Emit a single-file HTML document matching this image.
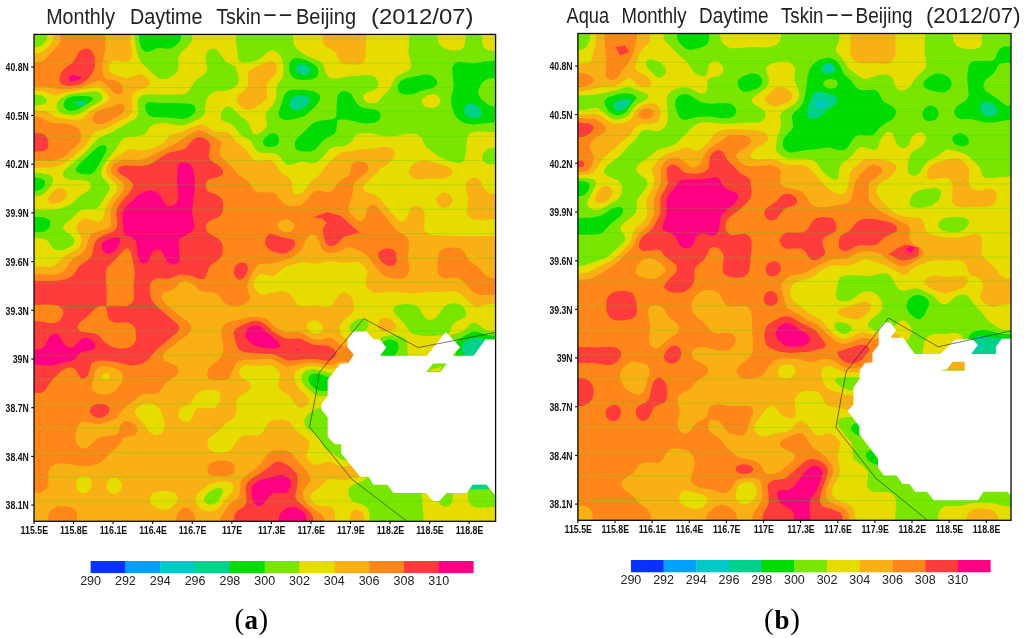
<!DOCTYPE html>
<html><head><meta charset="utf-8"><title>Monthly Daytime Tskin Beijing</title>
<style>
html,body{margin:0;padding:0;background:#fff;}
body{width:1024px;height:638px;overflow:hidden;}
svg{display:block;}
text{font-family:"Liberation Sans",sans-serif;fill:#1a1a1a;}
.title text{fill:#222;}
.tick text{font-size:10.2px;font-weight:bold;fill:#111;}
.cb text{font-size:12.5px;fill:#222;}
.cap{font-family:"Liberation Serif",serif;font-size:29px;fill:#000;}
</style></head><body>
<svg width="1024" height="638" viewBox="0 0 1024 638">
<rect width="1024" height="638" fill="#fff"/>
<g>
<rect x="34.0" y="34.4" width="461.6" height="486.9" fill="#00d28c"/>
<path fill="#00dc00" fill-rule="evenodd" d="M34.0,34.4 495.6,34.4 495.6,339.8 488.4,339.6 477.6,337.9 474.0,338.0 471.1,338.7 464.2,342.3 461.9,345.9 461.8,349.5 464.2,356.6 465.0,360.2 465.1,363.8 463.8,378.1 465.0,396.0 462.0,406.7 462.0,410.3 464.2,413.9 470.4,416.9 474.0,417.9 481.2,418.4 495.6,417.8 495.6,521.3 34.0,521.3ZM296.0,66.6 295.6,70.2 297.3,72.5 300.9,74.4 304.5,74.7 308.1,74.1 308.9,73.8 311.6,70.2 308.9,66.6 304.5,64.6 300.9,64.0 297.3,65.2ZM290.9,98.8 289.4,102.4 289.5,106.0 290.0,107.1 292.7,109.6 297.3,110.2 300.9,109.5 306.6,106.0 309.7,102.4 310.2,98.8 308.1,97.2 304.5,95.7 300.9,95.3 297.3,95.5 293.7,96.8ZM71.6,102.4 73.7,104.1 77.9,102.4 77.3,101.9 73.7,101.4ZM465.3,106.0 463.9,109.6 464.6,113.2 466.8,115.6 470.4,117.7 474.0,118.2 477.6,117.7 479.5,116.7 482.0,113.2 480.8,109.6 477.6,106.2 474.0,104.2 470.4,103.6 466.8,104.6ZM379.5,353.0 380.2,355.0 380.9,353.0Z"/>
<path fill="#78e600" fill-rule="evenodd" d="M34.0,34.4 139.0,34.4 139.4,41.6 140.4,45.1 142.2,49.5 145.8,52.0 149.4,51.7 156.6,48.3 160.2,47.9 167.4,48.7 171.0,48.3 174.6,46.6 179.8,41.6 181.1,38.0 181.1,34.4 495.6,34.4 495.6,60.7 488.4,61.0 474.0,63.2 459.5,61.8 455.2,63.0 452.6,66.6 452.2,70.2 453.7,84.5 453.4,88.1 451.0,98.8 451.7,106.0 453.9,113.2 455.9,116.7 459.4,120.3 463.1,122.4 466.8,123.5 474.0,124.4 495.6,122.3 495.6,335.6 488.4,335.2 477.6,331.9 474.0,331.5 470.4,332.7 459.5,338.7 456.1,342.3 455.2,345.9 455.2,349.5 456.5,360.2 456.0,378.1 456.4,396.0 455.4,406.7 456.2,413.9 459.5,417.9 474.0,424.2 477.6,425.0 481.2,425.1 495.6,424.0 495.6,521.3 34.0,521.3 34.0,232.3 41.2,232.0 45.0,231.3 49.3,227.7 50.4,224.1 49.9,220.6 48.4,219.3 44.8,217.8 41.2,217.1 34.0,216.9 34.0,190.7 37.6,190.7 41.2,189.5 42.7,188.3 45.2,184.8 44.9,181.2 41.2,178.5 37.6,177.7 34.0,177.6ZM292.0,59.5 289.7,63.0 289.2,70.2 290.2,73.8 293.7,78.0 297.3,79.4 304.5,80.0 311.7,79.4 316.1,77.4 318.4,73.8 318.5,70.2 316.7,66.6 315.3,65.3 308.1,61.1 300.9,58.6 297.3,58.0 293.7,58.4ZM423.5,74.5 405.4,78.5 400.5,80.9 398.1,84.5 397.7,88.1 398.9,91.7 401.8,93.7 405.4,94.4 412.7,94.2 419.9,91.2 432.8,88.1 437.1,84.5 437.0,80.9 434.5,77.4 430.7,75.3 427.1,74.5ZM286.9,91.7 284.2,95.3 278.4,113.2 279.2,116.8 282.8,119.6 286.4,120.0 290.0,119.7 297.3,118.3 304.5,115.9 311.7,110.1 315.7,106.0 318.5,102.4 320.1,98.8 319.5,95.3 318.9,94.5 315.3,92.0 311.7,90.9 304.5,90.0 293.7,89.6 290.0,90.1ZM344.1,91.1 340.5,91.9 337.8,95.3 337.0,98.8 336.3,116.7 333.3,119.0 318.9,121.0 315.3,122.0 311.7,124.0 305.0,131.1 297.1,138.2 295.2,141.8 294.7,145.4 295.9,149.0 297.3,150.0 300.9,151.3 308.1,151.8 311.7,151.3 315.3,149.5 322.5,141.1 326.1,138.3 333.9,134.6 336.2,131.1 337.4,120.3 340.5,119.4 347.7,119.7 362.2,123.2 365.8,123.6 373.0,123.1 376.6,121.9 378.9,120.3 380.6,116.7 380.3,113.2 376.6,110.0 362.2,107.5 358.6,105.3 356.1,102.4 351.4,94.4 347.7,91.8ZM66.4,98.8 63.9,102.4 63.6,106.0 66.1,109.6 70.1,110.8 73.7,110.8 77.9,109.6 89.5,102.4 93.4,98.8 91.7,97.2 88.1,96.3 80.9,95.9 73.7,96.3 70.1,97.1ZM147.2,102.4 145.8,103.7 145.2,106.0 145.8,109.9 147.2,113.2 149.4,115.7 153.0,117.1 171.0,117.8 181.9,119.0 185.5,118.5 189.9,116.7 194.4,113.2 195.8,109.6 194.4,106.0 192.7,104.7 189.1,103.7 174.6,103.0 160.2,103.1 149.4,102.0ZM269.1,134.6 264.5,138.2 262.7,141.8 264.2,145.4 268.4,146.9 272.0,147.0 277.0,145.4 279.1,141.8 278.8,138.2 276.8,134.6 275.6,133.5 272.0,133.2ZM102.5,144.9 98.9,146.3 95.3,149.2 80.2,163.3 77.0,166.9 75.7,170.4 77.3,172.1 80.9,173.8 88.1,174.4 91.7,173.8 95.3,170.7 105.6,152.5 106.6,149.0 106.1,146.4 105.1,145.4ZM382.4,342.3 373.0,350.2 371.1,353.0 371.0,356.6 373.0,359.4 380.8,363.8 383.9,367.4 385.0,370.9 385.6,381.7 384.9,388.8 382.9,399.6 383.4,403.2 387.4,406.7 391.0,407.1 394.6,405.7 396.4,403.2 398.0,396.0 398.7,374.5 397.5,367.4 394.6,360.2 394.5,356.6 398.2,349.9 398.8,345.9 397.3,342.3 394.6,340.5 391.0,339.5 387.4,339.7ZM310.7,374.5 308.4,378.1 309.0,381.7 311.1,385.3 315.3,388.9 318.9,390.5 322.5,391.1 326.1,390.9 330.7,388.8 333.2,385.3 333.2,381.7 329.7,377.8 318.9,373.8 315.3,373.4ZM484.8,80.2 488.4,78.5 495.6,78.0 495.6,106.3 492.0,106.2 488.4,104.9 481.0,98.8 478.7,95.3 478.3,91.7 479.1,88.1 481.2,83.9Z"/>
<path fill="#e6dc00" fill-rule="evenodd" d="M46.8,34.4 134.8,34.4 135.1,41.6 136.3,48.7 138.6,57.5 141.5,63.0 156.6,77.0 160.2,78.9 163.8,79.3 167.4,78.5 174.6,74.8 178.2,70.2 178.6,66.6 178.0,59.5 178.9,55.9 181.6,52.3 189.0,45.1 191.3,41.6 192.0,38.0 192.1,34.4 235.8,34.4 236.0,41.6 238.4,59.5 239.6,61.3 243.2,62.7 250.4,62.1 257.6,59.9 263.4,55.9 268.4,51.4 272.0,50.3 275.6,51.3 279.2,54.1 282.2,59.5 283.5,66.6 283.3,73.8 282.5,77.4 277.7,84.5 276.5,88.1 275.9,98.8 274.4,102.4 272.0,105.9 265.6,113.2 265.5,116.7 267.2,123.9 266.2,127.5 261.2,132.2 257.6,134.2 254.0,134.4 251.6,131.1 249.2,123.9 246.8,120.5 239.6,115.5 232.3,108.0 228.7,106.2 225.1,107.3 223.1,109.6 221.3,113.2 220.5,116.7 221.7,120.3 228.7,122.7 232.3,124.6 239.6,133.8 243.2,136.6 250.4,140.3 255.3,149.0 257.6,151.2 261.2,152.7 272.0,153.1 275.6,153.8 279.5,156.1 282.8,160.8 286.4,164.6 290.0,165.3 300.9,161.5 304.5,161.7 311.7,163.5 315.3,163.0 318.9,160.7 322.5,157.5 329.7,148.7 333.3,146.9 344.1,145.9 347.7,144.6 351.6,141.8 355.0,136.3 356.9,134.6 358.6,133.8 365.8,132.9 373.0,133.6 380.2,135.5 387.4,136.3 394.6,135.9 409.1,133.5 416.3,134.1 419.9,136.1 421.7,138.2 424.9,145.4 427.1,148.1 438.2,156.1 445.2,159.7 455.9,162.7 459.5,163.2 463.1,161.7 464.4,159.7 465.9,152.5 467.1,138.2 468.5,134.6 470.4,133.2 474.0,131.9 477.6,131.5 495.6,132.2 495.6,147.7 492.0,147.7 487.6,149.0 483.6,152.5 482.2,156.1 482.5,159.7 484.8,162.6 488.4,164.3 495.6,164.8 495.6,331.5 488.4,330.8 482.5,328.0 477.6,324.0 474.0,322.6 470.4,323.6 466.8,328.0 462.1,331.6 459.5,332.7 450.4,335.1 449.7,338.7 449.6,345.9 449.6,413.9 448.7,418.1 439.6,424.6 437.6,428.2 437.0,435.4 437.8,449.7 437.8,481.9 437.1,496.2 437.6,499.8 439.4,503.4 441.5,505.6 445.1,507.0 448.7,506.1 451.2,503.4 452.6,499.8 453.1,492.7 452.5,481.9 452.7,446.1 452.3,431.0 452.6,428.2 455.0,424.6 459.5,424.2 463.1,425.3 468.1,428.2 470.3,431.8 470.4,435.4 467.5,446.1 468.3,460.4 468.3,481.9 467.7,492.7 468.1,499.8 470.4,504.4 474.0,507.0 477.6,507.7 481.2,507.8 495.6,506.7 495.6,521.3 423.6,521.3 422.0,496.2 421.9,446.1 422.6,431.8 422.1,428.2 420.4,424.6 411.3,417.5 408.9,413.9 407.9,410.3 406.1,381.7 406.4,370.9 408.0,356.6 407.1,342.3 405.4,338.6 401.8,336.4 398.2,335.6 391.0,335.2 383.8,336.4 380.2,338.3 369.4,348.8 367.5,353.0 367.5,356.6 369.4,360.1 379.2,367.4 381.4,370.9 382.2,374.5 382.5,381.7 381.3,388.8 376.6,400.0 373.0,404.7 369.4,406.5 362.2,407.5 347.7,406.4 344.1,406.6 333.3,408.7 318.9,408.0 315.3,408.9 308.1,413.9 305.2,417.5 304.1,421.1 304.7,424.6 306.9,428.2 316.4,435.4 319.5,439.0 322.8,446.1 326.3,449.7 333.3,453.7 340.5,459.0 343.9,460.4 347.7,460.8 358.6,460.2 362.2,460.8 365.8,462.6 367.1,464.0 368.6,467.6 369.0,471.2 368.5,474.8 366.6,478.3 362.2,481.2 351.6,485.5 348.7,489.1 348.2,492.7 349.0,496.2 351.4,500.0 355.0,502.2 362.2,504.5 366.4,507.0 368.6,510.6 369.4,514.1 369.7,521.3 34.0,521.3 34.0,237.9 41.2,238.2 44.8,239.1 48.4,241.5 52.0,247.3 55.6,250.0 59.2,250.3 62.9,249.7 66.5,248.8 72.5,245.6 74.6,242.0 73.9,238.5 70.1,234.3 65.4,231.3 62.9,227.7 64.7,224.1 73.5,217.0 77.3,212.8 80.9,209.9 84.5,208.9 95.3,208.9 99.2,206.2 108.3,191.9 110.0,188.3 109.1,184.8 102.5,177.6 101.3,174.0 101.5,170.4 102.6,166.9 106.1,160.9 116.0,149.0 120.6,141.1 124.2,138.2 127.8,136.9 138.6,136.0 144.0,134.6 145.8,133.3 149.4,127.4 154.7,123.9 163.8,123.1 178.2,125.3 181.9,125.4 185.5,124.7 195.7,120.3 202.3,116.7 204.7,113.2 205.8,102.4 206.8,98.8 210.7,94.1 214.3,92.0 217.9,91.1 225.1,90.8 228.7,90.1 232.3,88.6 237.5,84.5 238.8,80.9 237.8,73.8 235.9,67.8 235.1,66.6 228.7,63.5 225.1,61.0 217.9,50.6 214.3,48.6 210.7,49.0 207.1,51.7 205.5,55.9 205.7,59.5 207.1,66.6 207.0,70.2 204.9,73.8 195.0,80.9 188.2,91.7 185.5,93.5 181.9,94.4 160.2,94.7 149.4,94.0 141.8,95.3 138.0,98.8 137.4,102.4 138.5,113.2 137.1,116.7 135.0,118.9 119.5,127.5 113.3,131.5 98.9,137.9 95.3,140.9 85.0,152.5 64.2,170.4 62.3,174.0 64.7,177.6 66.5,178.4 70.1,179.7 80.9,179.9 88.1,181.2 91.2,184.8 90.3,188.3 88.1,190.7 80.3,195.5 72.7,202.7 70.1,204.4 62.8,207.8 59.2,208.9 52.0,210.1 34.0,209.7 34.0,196.4 37.6,196.3 41.2,195.3 44.8,193.0 49.3,188.3 51.5,184.8 53.0,181.2 53.0,177.6 48.4,174.6 41.2,173.0 34.0,172.7 34.0,105.5 41.2,105.1 44.8,103.8 46.8,102.4 46.5,98.8 41.7,95.3 34.0,94.6 34.0,46.9 37.6,46.9 42.3,45.1 45.7,41.6 46.8,38.0ZM95.3,91.2 73.7,93.5 66.0,95.3 60.4,98.8 57.4,102.4 56.4,106.0 57.4,109.6 61.1,113.2 66.5,114.8 73.7,115.2 77.3,114.5 80.9,112.9 91.7,106.1 98.8,102.4 102.6,98.8 102.1,95.3 98.9,92.3ZM394.7,306.5 393.0,310.1 395.0,313.7 405.1,324.4 409.6,331.6 412.7,333.9 423.5,336.0 430.7,336.3 448.7,334.3 450.2,331.6 451.0,328.0 453.0,324.4 455.9,321.6 465.0,317.2 466.3,313.7 465.2,310.1 462.7,306.5 459.5,304.2 455.9,303.2 452.3,303.2 448.7,304.1 444.3,306.5 436.2,317.2 434.3,318.8 430.7,320.0 427.1,319.2 424.7,317.2 422.2,313.7 419.9,308.9 416.3,305.5 412.7,304.5 405.4,304.1 398.2,305.1ZM354.7,320.8 350.6,324.4 349.1,328.0 350.6,331.6 351.4,332.0 355.0,333.1 358.6,333.0 363.5,331.6 367.9,328.0 368.6,324.4 366.9,320.8 365.8,319.8 362.2,318.7 358.6,319.1ZM305.5,370.9 302.0,374.5 301.4,378.1 302.3,381.7 304.3,385.3 307.4,388.8 315.3,395.0 318.9,396.2 322.5,396.6 329.7,395.4 333.3,393.9 335.2,392.4 337.9,388.8 339.4,385.3 340.8,378.1 338.2,374.5 329.7,373.0 315.3,369.2 311.7,369.2ZM213.8,489.1 208.1,492.7 205.1,496.2 204.1,499.8 206.2,503.4 207.1,504.0 210.7,504.8 214.3,504.1 217.9,501.1 221.0,496.2 222.5,492.7 222.6,489.1 221.5,488.4 217.9,488.1ZM292.9,34.4 409.5,34.4 408.3,52.3 411.2,63.0 411.2,66.6 409.1,70.2 398.2,75.4 395.7,77.4 393.4,80.9 390.4,88.1 387.4,91.6 383.8,94.4 380.2,99.6 377.0,102.4 373.0,103.3 369.4,103.0 365.8,101.5 363.3,98.8 363.4,95.3 365.8,93.0 373.0,90.5 377.1,88.1 378.3,84.5 377.8,80.9 375.6,77.4 373.0,75.8 365.8,75.1 347.7,76.6 336.9,78.6 333.3,78.6 329.7,77.8 326.1,73.9 324.2,66.6 322.2,63.0 318.9,60.8 307.4,55.9 301.2,52.3 296.7,48.7 294.4,45.1 293.3,41.6ZM437.3,34.4 465.6,34.4 465.4,41.6 464.7,45.1 463.1,47.8 459.5,50.0 452.3,50.4 445.1,48.7 440.0,45.1 438.0,41.6 437.3,38.0ZM482.0,34.4 495.6,34.4 495.6,50.8 488.4,50.3 484.8,48.4 482.9,45.1 482.2,41.6ZM430.7,94.6 434.3,94.5 437.4,95.3 440.0,98.8 439.9,102.4 438.1,106.0 434.3,107.8 430.7,108.0 427.1,107.5 424.0,106.0 421.8,102.4 422.7,98.8 423.5,98.2 427.1,95.6Z"/>
<path fill="#f8b014" fill-rule="evenodd" d="M53.1,34.4 130.4,34.4 130.7,41.6 131.9,52.3 131.9,55.9 130.7,59.5 127.8,61.9 124.2,62.0 116.9,60.7 113.3,60.9 109.7,63.8 108.7,66.6 109.0,70.2 113.3,74.3 124.2,77.7 127.8,78.3 138.6,74.3 142.2,74.8 146.5,77.4 149.3,80.9 149.9,84.5 145.8,88.0 138.6,89.9 135.0,91.6 132.3,95.3 131.5,98.8 132.5,109.6 131.6,113.2 128.0,116.7 106.1,128.2 95.3,132.0 91.7,134.8 87.9,141.8 84.5,146.5 69.5,159.7 62.9,163.9 55.6,166.7 48.4,167.7 34.0,167.5 34.0,110.3 44.8,110.9 48.4,112.2 55.5,116.7 59.2,118.0 73.7,119.7 80.9,119.5 84.5,116.9 87.8,113.2 92.5,109.6 107.0,102.4 109.3,98.8 108.3,95.3 105.5,91.7 102.5,89.0 98.9,87.1 95.3,86.8 80.9,90.1 66.5,92.2 55.6,95.2 52.0,94.6 44.8,91.7 41.2,90.9 34.0,90.7 34.0,53.2 37.6,53.2 41.2,52.3 46.8,48.7 50.2,45.1 52.2,41.6 53.1,38.0ZM322.5,34.4 366.0,34.4 365.5,55.9 365.1,59.5 362.8,63.0 358.6,64.4 351.4,64.7 344.1,64.0 340.5,62.5 335.6,52.3 333.3,50.2 326.1,46.9 324.0,45.1 322.7,41.6ZM250.4,69.7 268.4,61.2 272.0,60.8 275.2,63.0 276.8,66.6 276.9,70.2 275.5,73.8 269.0,80.9 266.7,84.5 266.3,88.1 267.4,95.3 266.6,98.8 263.0,102.4 254.0,108.1 250.4,109.7 246.8,109.9 243.2,108.4 240.4,106.0 237.6,102.4 236.5,98.8 238.3,95.3 246.5,88.1 248.4,84.5 247.9,73.8 249.6,70.2ZM192.7,126.9 199.9,124.6 203.5,125.0 214.3,131.3 217.9,131.9 225.1,131.5 228.7,132.7 236.0,141.9 243.2,147.2 246.8,150.8 250.4,156.3 254.0,160.5 257.6,161.4 268.4,159.5 272.0,160.3 275.1,163.3 279.2,170.7 282.8,174.0 290.0,178.7 291.6,181.2 293.1,191.9 293.7,193.0 297.3,194.5 300.9,193.4 304.5,190.4 311.7,180.9 318.9,175.3 326.1,165.5 335.7,156.1 340.5,153.1 344.1,152.0 358.6,149.8 373.0,148.6 383.8,146.7 387.4,146.8 391.0,147.8 392.9,149.0 394.9,152.5 394.7,156.1 392.8,159.7 388.6,163.3 380.2,169.0 375.7,174.0 364.2,184.8 363.3,188.3 365.7,191.9 373.0,194.0 376.6,195.7 380.2,198.7 394.6,216.8 398.2,220.2 401.8,221.8 405.4,220.4 410.2,209.8 412.7,206.8 416.3,205.8 419.9,207.0 423.1,209.8 424.7,213.4 424.8,217.0 423.8,227.7 424.9,231.3 427.1,233.5 430.7,234.9 455.9,236.0 495.6,236.0 495.6,303.8 488.4,304.2 477.6,307.0 474.0,305.9 459.5,292.9 455.9,291.3 452.3,291.1 441.5,292.2 430.7,291.7 412.7,293.5 391.0,291.7 380.2,293.0 376.6,293.1 373.0,292.4 369.4,290.3 367.6,288.6 365.8,285.0 365.7,281.4 367.2,274.3 366.9,270.7 365.8,268.4 360.9,263.5 358.6,262.3 355.0,261.8 344.1,263.0 329.7,261.1 315.3,263.7 304.5,262.2 300.9,262.2 286.4,266.2 282.8,268.2 275.6,274.7 272.0,276.0 261.2,273.7 257.6,275.5 254.1,281.4 253.5,285.0 254.6,288.6 257.6,292.1 261.2,293.9 264.8,294.3 279.2,291.3 282.8,291.2 286.4,291.8 290.0,294.0 297.3,304.3 300.9,306.0 304.5,306.2 315.3,305.1 326.1,307.0 329.7,306.3 333.3,303.5 336.9,297.4 340.5,293.3 344.1,292.3 347.7,293.4 350.3,295.8 352.5,299.3 354.3,306.5 353.8,310.1 351.4,313.7 343.1,320.8 340.6,324.4 339.5,328.0 339.8,331.6 341.5,335.1 344.1,337.8 347.7,339.3 355.0,339.5 365.8,338.3 369.1,338.7 368.7,342.3 364.8,349.5 364.1,353.0 364.3,356.6 365.9,360.2 369.4,363.6 375.1,367.4 378.3,370.9 379.5,374.5 379.9,378.1 379.1,385.3 376.6,391.6 373.0,395.7 369.4,397.0 365.8,395.7 361.5,385.3 358.6,381.0 351.6,374.5 347.7,369.7 344.1,367.2 340.5,367.1 333.3,368.8 329.7,369.0 315.3,365.9 311.7,365.8 304.5,366.8 300.9,368.2 296.2,370.9 293.9,374.5 293.9,378.1 296.7,385.3 299.0,388.8 306.7,396.0 309.2,399.6 308.1,403.6 304.5,406.7 300.9,407.9 297.0,406.7 290.0,395.9 282.8,391.5 279.6,388.8 278.3,385.3 280.0,374.5 278.6,370.9 275.0,367.4 272.0,365.8 268.4,365.1 257.6,366.1 246.8,364.9 243.2,365.7 240.9,367.4 239.6,369.6 239.0,370.9 239.2,374.5 242.1,378.1 248.1,381.7 250.4,384.6 250.8,385.3 250.3,388.8 246.8,392.1 239.5,396.0 237.0,399.6 236.5,403.2 236.6,410.3 236.0,414.1 233.8,417.5 225.1,424.0 217.9,431.8 212.5,435.4 208.6,439.0 207.4,442.5 207.8,446.1 209.7,449.7 214.3,452.2 217.9,452.9 225.1,452.6 228.7,451.4 231.1,449.7 238.4,439.0 243.2,435.6 246.8,435.0 257.6,435.2 261.2,433.7 263.1,431.8 268.4,423.1 272.0,420.8 275.6,419.9 282.8,419.7 286.4,420.4 290.0,422.3 297.4,431.8 306.7,439.0 309.3,442.5 309.5,446.1 306.7,453.3 306.6,456.9 308.6,460.4 311.7,463.2 315.3,464.8 318.9,464.6 326.1,462.0 329.7,461.9 340.5,466.2 344.1,466.5 355.0,465.4 358.6,466.0 361.1,467.6 362.2,469.8 362.6,471.2 361.1,474.8 358.6,476.7 355.0,478.2 344.1,480.2 333.3,479.1 329.7,479.5 326.1,481.1 318.9,487.9 311.7,493.6 310.4,496.2 310.8,499.8 315.3,504.4 318.9,505.8 329.7,506.6 333.3,509.0 334.9,514.1 335.1,521.3 34.0,521.3 34.0,266.2 48.4,266.9 52.0,266.5 55.6,264.8 63.8,256.4 77.3,249.2 80.2,245.6 81.4,242.0 81.2,238.5 80.0,234.9 76.2,227.7 77.4,224.1 80.9,220.5 84.5,218.6 88.1,218.6 95.3,221.6 98.9,222.1 102.5,219.6 105.1,209.8 108.1,202.7 115.8,191.9 117.4,188.3 116.9,184.8 109.4,177.6 106.8,174.0 106.0,170.4 106.9,166.9 109.0,163.3 113.3,158.9 127.8,150.2 131.4,149.1 142.2,150.5 149.4,149.2 156.6,146.7 159.4,145.4 164.6,141.8 170.4,134.6 181.9,131.7ZM311.6,320.8 308.1,323.0 306.9,324.4 306.9,328.0 308.1,329.3 311.7,332.6 315.3,333.8 318.9,333.1 321.1,331.6 322.9,328.0 322.0,324.4 318.9,321.4 315.3,320.3ZM102.3,374.5 102.5,378.7 106.1,380.4 110.1,378.1 109.5,374.5 106.1,373.2ZM198.2,392.4 194.9,396.0 192.7,400.7 190.9,403.2 181.9,407.5 179.2,410.3 178.2,414.3 179.1,417.5 181.9,420.6 185.5,422.1 189.1,421.7 190.0,421.1 192.7,417.6 195.3,410.3 196.3,409.1 199.9,407.8 210.7,408.5 214.3,407.8 215.9,406.7 218.8,403.2 220.1,399.6 220.6,396.0 219.5,392.4 217.9,391.2 214.3,390.0 207.1,389.7 203.5,390.2ZM138.5,406.7 135.2,410.3 134.6,413.9 144.5,424.6 149.4,431.7 153.0,434.4 156.6,435.2 160.2,434.3 163.2,431.8 164.6,428.2 164.3,421.1 160.7,410.3 157.9,406.7 153.0,404.2 149.4,403.5 145.8,403.4 142.2,404.5ZM78.2,478.3 76.4,481.9 76.2,485.5 77.3,489.9 80.9,493.0 84.5,493.4 88.1,491.9 90.3,489.1 91.5,485.5 91.6,481.9 90.3,478.3 88.1,476.7 84.5,475.9 80.9,476.6ZM113.3,477.6 109.7,478.8 107.1,481.9 106.4,485.5 107.2,489.1 110.0,492.7 113.3,493.8 116.9,493.4 120.6,490.6 121.4,489.1 122.0,485.5 121.1,481.9 116.9,478.2ZM217.1,481.9 210.7,483.8 207.1,485.8 198.6,492.7 196.0,496.2 195.3,499.8 196.5,503.4 199.9,508.1 203.5,510.5 207.1,511.5 210.7,511.3 214.3,510.3 217.9,508.4 221.5,504.9 225.2,499.8 232.3,491.4 233.4,489.1 233.5,485.5 232.3,483.4 230.5,481.9 225.1,481.0ZM153.8,492.7 150.5,496.2 149.8,499.8 150.8,503.4 154.4,507.0 160.2,509.2 163.8,509.9 167.4,509.6 171.0,508.1 175.5,503.4 177.3,499.8 177.2,496.2 174.6,493.1 171.0,491.6 167.4,491.0 160.2,491.0ZM416.3,162.6 423.5,160.5 427.1,160.4 445.1,165.6 448.3,166.9 452.4,170.4 452.3,174.0 448.7,177.0 445.1,178.3 441.5,178.8 430.7,178.4 419.9,179.3 416.3,179.0 412.3,177.6 409.2,174.0 408.7,170.4 410.4,166.9 412.7,164.7ZM474.0,177.5 477.6,178.2 480.6,181.2 483.9,188.3 487.2,191.9 488.4,192.7 492.0,193.7 495.6,193.7 495.6,219.0 481.2,219.9 474.0,219.5 469.2,217.0 466.9,213.4 466.6,209.8 468.1,199.1 465.8,188.3 465.7,184.8 466.9,181.2 470.4,178.4ZM59.2,187.9 62.9,188.4 66.8,191.9 66.9,195.5 64.9,199.1 59.2,202.8 55.6,203.6 52.0,203.5 49.4,202.7 47.6,199.1 49.9,195.5 55.6,189.5ZM441.5,193.0 445.1,192.5 448.7,193.9 450.5,195.5 452.3,199.1 452.0,202.7 448.7,206.8 445.1,207.9 441.5,207.2 439.9,206.2 437.0,202.7 436.5,199.1 437.9,195.8ZM380.2,319.6 383.8,317.9 387.4,318.1 391.0,319.6 396.1,324.4 396.6,328.0 394.6,329.4 391.0,330.7 383.8,331.3 380.2,330.6 378.1,328.0 378.1,324.4 379.3,320.8ZM355.0,509.8 358.6,509.9 362.2,512.2 363.4,514.1 364.2,517.7 364.2,521.3 349.6,521.3 350.3,514.1 351.4,512.2 353.2,510.6Z"/>
<path fill="#ff8719" fill-rule="evenodd" d="M60.8,34.4 105.2,34.4 105.4,48.7 103.1,59.5 102.3,66.6 102.9,73.8 104.3,77.4 106.1,79.1 113.3,80.1 116.2,80.9 121.5,84.5 122.9,88.1 122.3,91.7 120.6,94.3 116.9,94.4 113.3,92.4 102.5,81.0 98.9,80.8 95.3,81.7 80.9,87.4 70.1,89.1 59.2,89.3 48.4,87.2 34.0,86.9 34.0,62.2 41.2,61.5 44.8,59.2 58.7,45.1 60.3,41.6ZM113.3,105.9 120.6,102.9 124.2,105.6 124.6,109.6 122.3,113.2 116.8,116.7 109.7,120.8 102.5,123.9 98.9,124.3 95.3,123.4 92.3,120.3 92.2,116.7 95.3,112.6 101.3,109.6ZM34.1,116.7 37.6,116.8 41.2,117.9 48.4,121.6 52.0,122.7 68.8,123.9 73.7,125.4 77.3,127.8 79.8,131.1 80.9,133.8 81.3,138.2 79.9,141.8 77.3,144.8 64.9,156.1 59.2,159.3 52.0,160.9 34.0,160.2ZM196.3,130.8 199.9,130.3 203.5,131.4 216.1,138.2 221.0,141.8 221.3,145.4 219.3,152.5 220.0,156.1 232.2,166.9 237.5,174.0 247.9,181.2 254.0,190.0 257.6,192.1 261.2,192.6 272.0,192.2 275.6,193.3 282.5,202.7 286.4,204.9 290.0,205.7 297.3,205.8 300.9,204.9 304.5,202.6 311.7,194.1 315.3,190.8 318.9,190.2 326.1,191.9 329.7,191.9 333.3,189.6 339.1,181.2 340.5,180.0 347.7,176.6 350.0,174.0 351.4,166.1 352.4,163.3 355.0,161.8 358.6,161.3 362.2,161.7 366.7,163.3 368.7,166.9 367.9,170.4 365.0,174.0 355.0,181.2 353.6,184.8 352.2,195.5 348.8,206.2 348.8,209.8 350.1,213.4 355.0,218.8 358.6,220.9 362.2,220.7 365.0,217.0 367.1,209.8 368.9,206.2 373.0,204.7 376.6,206.5 380.2,210.0 394.6,228.3 398.2,231.6 405.4,235.6 407.9,238.5 409.0,242.0 409.1,245.6 407.8,256.4 409.1,267.1 409.2,270.7 408.2,274.3 404.5,277.8 401.8,278.7 398.2,279.0 391.0,278.2 383.8,275.7 380.2,272.2 365.8,254.6 362.2,252.0 351.4,247.4 347.7,247.2 340.5,250.9 336.9,252.2 329.7,252.9 326.1,252.3 322.5,250.2 321.7,249.2 318.9,240.4 315.5,234.9 311.7,234.1 308.1,236.5 306.7,238.5 302.0,249.2 298.7,252.8 293.6,256.4 286.4,259.5 272.0,263.5 261.2,263.7 257.6,265.2 254.0,270.1 248.4,281.4 247.2,285.0 247.2,288.6 249.7,295.8 250.1,299.3 247.1,302.9 243.2,304.9 236.0,306.3 228.7,305.4 224.6,302.9 217.9,294.3 214.3,292.5 203.5,291.8 199.9,290.9 192.7,284.0 189.1,281.7 185.5,280.9 181.9,281.7 178.2,284.3 174.6,288.2 171.0,290.6 163.4,292.2 161.3,295.8 162.3,299.3 164.8,302.9 177.0,313.7 186.9,320.8 190.5,324.4 191.6,328.0 190.6,331.6 187.2,335.1 167.8,349.5 164.4,353.0 162.6,356.6 163.8,360.6 174.6,364.9 177.6,367.4 178.5,370.9 177.2,374.5 173.2,378.1 167.3,381.7 163.9,385.3 160.2,390.9 156.6,393.5 153.0,394.0 145.8,393.7 142.2,394.2 138.6,396.4 124.2,408.3 122.2,410.3 116.9,417.8 106.1,422.4 98.9,423.9 95.3,423.8 84.5,421.4 80.9,422.3 78.9,424.6 77.2,428.2 75.6,435.4 75.6,439.0 76.2,442.5 77.3,444.6 80.9,448.1 84.5,448.6 88.1,447.2 95.3,440.3 98.9,437.7 102.5,436.4 113.3,435.2 116.9,434.2 118.9,431.8 120.7,424.6 124.2,421.0 127.8,421.0 131.4,422.4 134.9,424.6 137.4,428.2 137.6,431.8 135.0,434.7 133.5,435.4 124.2,437.5 122.1,439.0 118.2,446.1 116.9,447.6 109.7,453.3 102.5,461.1 98.9,463.5 91.7,465.7 84.5,466.4 62.9,463.1 55.6,463.9 52.0,465.7 50.0,467.6 48.4,471.2 48.4,482.1 48.0,485.5 46.2,489.1 44.8,490.5 41.2,492.7 34.0,493.4 34.0,274.0 48.4,274.6 55.6,274.4 59.2,273.4 62.9,271.6 66.5,267.5 68.6,263.5 71.5,259.9 80.9,254.2 84.5,250.6 86.9,245.6 88.7,238.5 90.6,234.9 91.7,233.8 95.3,232.2 106.1,229.1 108.8,227.7 109.7,226.7 111.1,224.1 110.5,213.4 112.1,206.2 113.9,202.7 122.4,191.9 124.0,188.3 123.9,184.8 121.2,181.2 112.2,174.0 110.7,170.4 111.6,166.9 114.7,163.3 120.6,160.4 124.2,159.6 138.6,159.9 142.2,159.6 145.8,158.5 178.2,142.0 189.2,134.6ZM282.8,219.7 279.2,221.4 277.3,224.1 278.1,227.7 282.4,231.3 286.4,232.3 290.0,231.9 291.4,231.3 294.5,227.7 294.0,224.1 290.0,220.5 286.4,219.6ZM98.3,367.4 95.5,370.9 94.3,374.5 92.0,385.3 92.1,388.8 94.9,392.4 98.9,393.9 106.1,394.3 109.7,393.7 113.3,392.1 117.3,388.8 120.1,385.3 122.0,381.7 122.9,378.1 122.4,374.5 119.8,370.9 113.3,367.4 106.1,365.9 102.5,365.9ZM445.1,248.3 448.7,247.7 455.9,247.5 459.5,248.2 461.6,249.2 464.8,252.8 468.7,259.9 478.0,267.1 484.8,274.6 488.4,277.0 492.0,277.9 495.6,277.9 495.6,294.4 481.2,295.0 477.6,294.5 473.1,292.2 463.1,280.9 459.5,278.4 455.9,277.7 445.1,278.6 441.5,277.7 438.4,274.3 437.9,272.7 437.3,267.1 437.6,259.9 439.0,252.8 441.5,249.8ZM250.4,317.1 257.6,316.7 264.8,318.1 268.4,320.2 276.2,328.0 282.8,331.3 286.4,332.2 297.3,331.7 300.9,332.5 311.7,338.6 315.3,339.7 318.9,339.8 329.7,337.4 333.3,339.1 340.5,344.8 344.1,346.4 355.0,345.8 358.6,347.1 359.6,349.5 360.7,356.6 362.2,360.2 364.8,363.8 374.9,370.9 376.6,374.1 377.2,378.1 376.9,381.7 375.6,385.3 373.0,388.9 369.4,388.7 351.4,365.9 347.7,362.6 344.1,361.1 340.5,361.5 333.3,364.4 329.7,365.1 326.1,364.9 315.3,362.8 308.1,362.6 300.9,363.7 290.0,366.6 286.4,366.6 282.8,365.1 275.6,360.7 272.0,359.3 268.4,358.8 257.6,359.6 243.2,359.7 239.6,360.8 235.7,363.8 233.7,367.4 231.4,374.5 228.7,378.2 225.1,379.7 217.9,380.6 214.3,380.5 210.7,379.6 208.2,378.1 206.9,374.5 207.5,370.9 209.3,367.4 218.1,360.2 221.5,356.6 223.1,353.0 223.2,345.9 221.8,338.7 221.3,331.6 222.1,328.0 224.4,324.4 228.7,321.9 232.3,320.9ZM268.4,452.8 272.0,450.8 279.2,450.0 286.4,450.8 290.0,452.0 293.7,455.2 297.3,460.4 306.8,471.2 309.3,474.8 310.5,478.3 309.5,481.9 304.1,489.1 303.0,492.7 302.9,496.2 304.2,499.8 308.1,504.5 315.3,510.4 321.7,514.1 324.3,517.7 324.4,521.3 220.3,521.3 220.4,517.7 228.7,505.0 232.3,501.8 236.1,499.8 239.4,496.2 240.8,481.9 242.7,478.3 256.6,467.6 260.1,464.0ZM221.5,460.3 228.7,461.1 232.3,462.9 233.5,464.0 234.9,467.6 234.8,471.2 232.3,474.0 231.0,474.8 225.1,475.9 214.3,476.3 209.2,474.8 207.5,471.2 207.8,467.6 209.5,464.0 214.3,461.2ZM59.2,506.2 66.5,506.4 70.1,507.1 73.7,508.6 75.6,510.6 76.9,514.1 77.3,521.3 48.0,521.3 48.0,517.7 48.8,514.1 50.8,510.6 55.6,507.1ZM181.9,508.7 185.5,507.0 189.1,508.1 194.0,514.1 195.1,517.7 195.1,521.3 175.9,521.3 176.0,517.7 177.2,514.1Z"/>
<path fill="#ff3c3c" fill-rule="evenodd" d="M84.5,48.7 88.1,48.7 91.7,50.6 94.1,55.9 95.0,63.0 94.8,66.6 93.9,70.2 92.2,73.8 85.7,80.9 79.8,84.5 70.1,86.1 66.5,85.8 62.1,84.5 59.5,80.9 59.5,77.4 60.7,73.8 63.0,70.2 66.5,66.9 73.7,61.8 78.8,52.3 80.9,50.1ZM34.0,133.1 41.2,133.6 44.0,134.6 47.4,138.2 48.3,141.8 48.4,145.6 47.4,149.0 44.8,150.6 41.2,151.4 34.0,151.6ZM196.3,137.6 199.9,136.9 203.5,137.9 208.9,141.8 210.4,145.4 208.5,156.1 210.2,159.7 220.5,166.9 223.1,170.4 222.8,174.0 221.5,175.3 217.9,177.0 210.7,178.7 207.1,180.7 205.6,184.8 206.1,188.3 207.1,190.1 209.3,191.9 218.4,195.5 221.9,199.1 223.1,202.7 223.0,209.8 221.5,213.9 217.9,217.6 210.3,220.6 207.1,223.1 206.4,224.1 205.8,227.7 207.1,231.4 210.7,234.4 218.3,238.5 221.3,242.0 222.6,245.6 222.7,252.8 221.4,256.4 218.3,259.9 213.2,263.5 209.4,267.1 205.1,277.8 203.5,279.2 199.9,279.1 189.1,275.2 181.9,274.6 178.2,275.2 171.0,278.1 167.4,278.9 160.2,278.2 156.6,278.5 153.0,280.2 151.7,281.4 150.1,285.0 149.6,288.6 150.4,295.8 151.5,299.3 153.7,302.9 157.0,306.5 177.8,324.4 179.5,328.0 178.0,331.6 156.7,349.5 147.5,360.2 142.2,363.6 138.6,364.7 131.4,365.4 113.3,361.3 102.5,360.5 95.3,360.9 91.2,363.8 88.3,374.5 84.5,378.7 80.9,378.4 76.4,370.9 73.7,368.3 70.1,367.3 66.5,367.9 61.3,370.9 52.0,380.0 44.8,390.7 41.2,392.8 34.0,393.5 34.0,321.0 41.2,321.4 52.0,323.3 55.6,322.8 59.3,320.8 62.1,317.2 63.3,313.7 62.8,310.1 59.6,306.5 55.6,305.1 48.4,304.6 34.0,304.9 34.0,280.7 52.0,281.0 59.2,280.6 66.5,279.1 70.1,277.4 73.8,274.3 78.7,267.1 80.9,264.9 88.1,259.8 91.3,256.4 92.6,252.8 93.8,245.6 95.0,242.0 97.9,238.5 102.5,235.8 113.3,231.6 116.7,227.7 117.3,224.1 116.2,213.4 116.9,209.1 120.4,202.7 129.9,191.9 132.2,188.3 133.0,184.8 130.9,181.2 126.3,177.6 120.3,174.0 117.2,170.4 119.5,166.9 124.2,165.6 142.2,166.0 149.4,164.4 156.6,160.4 162.5,156.1 169.4,152.5 181.9,150.0 185.5,148.4 191.0,141.8ZM127.8,248.0 124.2,249.6 116.9,257.9 109.7,264.7 107.6,267.1 106.2,270.7 105.8,277.8 106.7,288.6 106.6,302.9 106.1,306.5 102.5,306.1 98.9,306.8 95.3,308.5 88.1,315.8 80.9,321.4 78.3,324.4 77.3,328.0 80.5,331.6 95.3,333.6 98.9,335.5 104.7,342.3 109.7,345.8 113.3,347.3 120.6,348.7 127.8,348.0 131.8,345.9 135.0,342.3 136.2,338.7 136.4,335.1 135.0,328.2 132.4,324.4 127.8,322.3 116.9,322.7 113.3,322.3 110.5,320.8 108.1,317.2 106.1,306.5 109.7,305.5 124.2,305.9 127.8,305.5 131.4,303.6 133.8,299.3 134.2,295.8 133.5,285.0 134.8,274.3 134.6,270.7 131.1,252.8 129.0,249.2ZM333.3,219.8 336.9,218.6 340.5,218.3 344.1,219.6 349.0,224.1 351.1,227.7 351.0,231.3 347.2,234.9 344.1,236.8 336.9,244.1 333.3,246.1 329.7,246.3 326.1,243.4 325.4,242.0 323.4,234.9 323.0,231.3 323.2,227.7 326.1,223.7ZM268.4,234.3 272.0,233.9 282.8,237.5 290.0,238.8 293.7,240.0 295.4,242.0 294.8,245.6 292.3,249.2 286.4,253.0 282.8,253.5 279.2,253.3 272.0,251.0 268.6,249.2 265.8,245.6 265.1,242.0 265.5,238.5ZM383.8,249.1 387.4,248.5 391.0,248.7 394.6,250.6 395.8,252.8 396.5,259.9 395.7,263.5 394.6,264.9 391.0,266.1 387.4,265.5 383.8,263.7 380.0,259.9 378.2,256.4 378.5,252.8 380.2,250.8ZM239.6,262.9 243.2,262.3 245.9,263.5 246.8,264.3 247.9,267.1 247.7,270.7 246.3,274.3 243.2,278.5 239.6,280.0 235.8,277.8 234.1,274.3 233.7,270.7 234.7,267.1 236.0,265.3ZM243.2,324.4 250.4,321.7 254.0,321.1 257.6,321.1 261.2,322.0 264.8,324.0 272.9,331.6 282.8,337.4 286.4,338.6 290.0,338.9 297.3,338.3 300.9,338.9 311.7,344.1 315.3,345.1 326.1,345.5 329.7,346.4 334.2,349.5 336.5,353.0 335.8,356.6 329.7,360.5 326.1,360.8 315.3,359.0 308.1,358.7 290.0,360.7 286.4,360.2 275.6,355.0 272.0,354.1 250.4,353.1 243.2,351.8 238.7,349.5 236.9,345.9 233.6,335.1 233.9,331.6 236.7,328.0ZM365.8,370.0 369.4,370.9 373.0,374.3 373.5,378.1 373.0,380.2 369.4,381.0 365.8,376.6 364.5,374.5 363.5,370.9ZM91.7,406.3 95.3,404.5 98.9,403.9 102.5,404.1 106.1,405.1 108.6,406.7 109.6,410.3 108.0,413.9 102.5,417.5 98.9,418.0 95.7,417.5 90.8,413.9 89.8,410.3ZM275.6,462.1 279.2,461.5 282.8,462.4 290.0,467.0 294.7,471.2 297.0,474.8 297.8,478.3 297.3,485.5 295.2,496.2 296.4,499.8 308.4,510.6 311.5,514.1 313.2,517.7 313.2,521.3 233.9,521.3 234.0,517.7 234.9,514.1 237.9,510.6 243.5,507.0 245.9,503.4 246.6,499.8 245.6,489.1 246.0,485.5 248.0,481.9 252.0,478.3 263.4,471.2 272.0,464.3Z"/>
<path fill="#ff0082" fill-rule="evenodd" d="M70.1,75.7 73.7,74.6 77.5,77.4 74.7,80.9 70.1,81.2 69.4,80.9 68.7,77.4ZM181.9,162.6 185.5,162.5 189.1,163.8 192.7,168.1 194.3,174.0 194.7,188.3 192.3,209.8 192.4,213.4 194.2,224.1 193.9,227.7 192.1,231.3 189.1,233.4 181.9,237.0 180.1,238.5 178.5,242.0 179.8,259.9 177.7,263.5 174.6,264.5 171.0,264.4 169.4,263.5 167.4,262.2 162.6,252.8 160.2,250.0 156.6,248.9 153.0,251.1 149.0,259.9 146.1,263.5 142.2,263.5 139.0,259.9 137.7,256.4 136.8,245.6 136.1,242.0 135.0,239.9 131.4,237.2 124.9,234.9 124.2,233.9 123.5,231.3 122.5,217.0 122.8,213.4 123.9,209.8 127.8,204.7 138.6,194.7 145.8,191.0 149.4,190.4 153.0,190.7 156.6,192.1 160.2,195.5 163.8,201.9 167.4,205.6 171.0,206.3 174.6,204.8 176.5,202.7 178.1,199.1 178.6,195.5 177.0,181.2 177.5,166.9 178.2,164.9 179.9,163.3ZM109.7,238.4 116.9,237.5 119.8,238.5 120.1,242.0 116.9,248.3 113.3,252.1 109.7,253.7 106.1,253.5 102.5,250.3 101.6,245.6 103.3,242.0ZM248.0,328.0 254.0,325.4 257.6,325.4 261.2,326.9 268.4,333.8 278.6,342.3 280.5,345.9 279.2,347.0 275.6,348.2 272.0,348.5 261.2,347.5 254.0,345.2 249.8,342.3 246.8,338.7 245.3,335.1 245.5,331.6ZM52.0,334.4 55.6,333.8 59.2,335.4 62.9,342.6 66.5,346.3 70.1,347.5 73.7,347.3 80.9,339.2 84.5,338.0 88.1,338.2 91.7,339.9 94.1,342.3 95.2,345.9 93.5,349.5 80.9,352.3 73.7,360.2 62.8,362.5 52.0,365.8 34.0,364.5 34.0,349.4 37.6,349.4 41.2,348.7 44.8,346.2 47.0,342.3 48.4,338.4 50.9,335.1ZM297.3,348.9 300.9,349.4 300.9,349.5 297.3,350.2 294.3,349.5ZM268.4,477.6 279.2,474.9 282.8,475.0 286.4,476.3 288.9,478.3 290.7,481.9 290.8,485.5 290.0,488.1 286.4,492.4 282.8,493.3 275.6,492.8 272.0,493.6 268.4,497.0 263.9,503.4 261.2,505.7 257.6,506.4 254.0,503.6 251.9,496.2 251.3,489.1 252.6,485.5 257.6,481.2ZM286.4,508.3 290.0,507.2 293.6,507.2 297.3,508.2 300.9,510.1 305.0,514.1 306.4,517.7 306.5,521.3 278.6,521.3 278.6,517.7 279.8,514.1 282.9,510.6Z"/>
<g>
<polygon points="76,104 80,101 87,101.5 84,105.5 78,106.5" fill="#00d28c"/>
<polygon points="79.5,103.5 82,102.3 84.5,103.3 82,104.8" fill="#00c8c8"/>
<polygon points="70,78.5 76,75.8 82,77.5 77,80.5" fill="#ff0082"/>
<polygon points="313.4,217.3 327.5,212.1 340.8,216.1 359.6,232.5 340.8,237.2 331.4,227 322,218.4" fill="#ff3c3c"/>
</g>

<g stroke="#28e000" stroke-opacity="0.4" stroke-width="0.7"><line x1="34.0" x2="495.6" y1="38.8" y2="38.8"/><line x1="34.0" x2="495.6" y1="63.1" y2="63.1"/><line x1="34.0" x2="495.6" y1="87.5" y2="87.5"/><line x1="34.0" x2="495.6" y1="111.8" y2="111.8"/><line x1="34.0" x2="495.6" y1="136.2" y2="136.2"/><line x1="34.0" x2="495.6" y1="160.5" y2="160.5"/><line x1="34.0" x2="495.6" y1="184.8" y2="184.8"/><line x1="34.0" x2="495.6" y1="209.2" y2="209.2"/><line x1="34.0" x2="495.6" y1="233.5" y2="233.5"/><line x1="34.0" x2="495.6" y1="257.9" y2="257.9"/><line x1="34.0" x2="495.6" y1="282.2" y2="282.2"/><line x1="34.0" x2="495.6" y1="306.5" y2="306.5"/><line x1="34.0" x2="495.6" y1="330.9" y2="330.9"/><line x1="34.0" x2="495.6" y1="355.2" y2="355.2"/><line x1="34.0" x2="495.6" y1="379.6" y2="379.6"/><line x1="34.0" x2="495.6" y1="403.9" y2="403.9"/><line x1="34.0" x2="495.6" y1="428.2" y2="428.2"/><line x1="34.0" x2="495.6" y1="452.6" y2="452.6"/><line x1="34.0" x2="495.6" y1="476.9" y2="476.9"/><line x1="34.0" x2="495.6" y1="501.3" y2="501.3"/></g>
<polygon points="347.5,339.1 353.8,331.4 366.5,331.4 373.7,339.5 380.0,339.5 386.3,347.6 380.0,355.7 426.8,355.7 445.8,331.9 460.2,347.2 452.4,355.7 473.7,355.7 485.4,339.5 496.0,339.5 496.0,494.7 495.0,494.7 486.3,484.8 472.8,484.8 466.5,492.9 446.7,492.9 439.4,501.0 433.1,501.0 425.9,492.9 393.5,492.9 387.2,484.8 373.7,484.8 368.3,476.7 360.2,476.7 341.2,453.3 341.2,444.2 334.9,444.2 327.7,437.0 327.7,417.5 321.4,409.4 321.4,404.0 327.7,395.9 327.7,379.7 340.3,363.8 348.4,363.1 353.8,354.8 347.5,347.2" fill="#fff" />
</g>
<g>
<polygon points="433.1,363.4 446.7,363.4 440.3,372.1 426.3,372.1" fill="#78e600"/>
<polygon points="431.5,369.5 441.5,366.5 440.3,371.3 428,371.3" fill="#e6dc00"/>
<polygon points="472.8,484.8 486.3,484.8 489.5,489 469.5,489.5" fill="#00d28c"/>
<polyline points="363.7,318.6 319.2,372.5 316,394" fill="none" stroke="#222" stroke-width="0.7" stroke-opacity="0.85"/>
<polyline points="316,394 309.5,427 352,479.4 406.1,520.6" fill="none" stroke="#222" stroke-width="0.7" stroke-opacity="0.85"/>
<polyline points="363.7,318.6 418.2,347.6 495,332.5" fill="none" stroke="#222" stroke-width="0.7" stroke-opacity="0.85"/>
</g>

<rect x="34.0" y="34.4" width="461.6" height="486.9" fill="none" stroke="#0a0a0a" stroke-width="1.3"/>
<line x1="34.0" x2="34.0" y1="521.3" y2="523.9" stroke="#0a0a0a" stroke-width="1.1"/>
<line x1="73.6" x2="73.6" y1="521.3" y2="523.9" stroke="#0a0a0a" stroke-width="1.1"/>
<line x1="113.1" x2="113.1" y1="521.3" y2="523.9" stroke="#0a0a0a" stroke-width="1.1"/>
<line x1="152.7" x2="152.7" y1="521.3" y2="523.9" stroke="#0a0a0a" stroke-width="1.1"/>
<line x1="192.3" x2="192.3" y1="521.3" y2="523.9" stroke="#0a0a0a" stroke-width="1.1"/>
<line x1="231.8" x2="231.8" y1="521.3" y2="523.9" stroke="#0a0a0a" stroke-width="1.1"/>
<line x1="271.4" x2="271.4" y1="521.3" y2="523.9" stroke="#0a0a0a" stroke-width="1.1"/>
<line x1="311.0" x2="311.0" y1="521.3" y2="523.9" stroke="#0a0a0a" stroke-width="1.1"/>
<line x1="350.5" x2="350.5" y1="521.3" y2="523.9" stroke="#0a0a0a" stroke-width="1.1"/>
<line x1="390.1" x2="390.1" y1="521.3" y2="523.9" stroke="#0a0a0a" stroke-width="1.1"/>
<line x1="429.7" x2="429.7" y1="521.3" y2="523.9" stroke="#0a0a0a" stroke-width="1.1"/>
<line x1="469.2" x2="469.2" y1="521.3" y2="523.9" stroke="#0a0a0a" stroke-width="1.1"/>
<line x1="31.2" x2="34.0" y1="66.9" y2="66.9" stroke="#0a0a0a" stroke-width="1.1"/>
<line x1="31.2" x2="34.0" y1="115.5" y2="115.5" stroke="#0a0a0a" stroke-width="1.1"/>
<line x1="31.2" x2="34.0" y1="164.2" y2="164.2" stroke="#0a0a0a" stroke-width="1.1"/>
<line x1="31.2" x2="34.0" y1="212.9" y2="212.9" stroke="#0a0a0a" stroke-width="1.1"/>
<line x1="31.2" x2="34.0" y1="261.6" y2="261.6" stroke="#0a0a0a" stroke-width="1.1"/>
<line x1="31.2" x2="34.0" y1="310.3" y2="310.3" stroke="#0a0a0a" stroke-width="1.1"/>
<line x1="31.2" x2="34.0" y1="359.0" y2="359.0" stroke="#0a0a0a" stroke-width="1.1"/>
<line x1="31.2" x2="34.0" y1="407.7" y2="407.7" stroke="#0a0a0a" stroke-width="1.1"/>
<line x1="31.2" x2="34.0" y1="456.4" y2="456.4" stroke="#0a0a0a" stroke-width="1.1"/>
<line x1="31.2" x2="34.0" y1="505.1" y2="505.1" stroke="#0a0a0a" stroke-width="1.1"/>
<g class="tick"><text x="20.6" y="533.8" textLength="27.5" lengthAdjust="spacingAndGlyphs">115.5E</text><text x="60.1" y="533.8" textLength="27.5" lengthAdjust="spacingAndGlyphs">115.8E</text><text x="99.7" y="533.8" textLength="27.5" lengthAdjust="spacingAndGlyphs">116.1E</text><text x="139.3" y="533.8" textLength="27.5" lengthAdjust="spacingAndGlyphs">116.4E</text><text x="178.8" y="533.8" textLength="27.5" lengthAdjust="spacingAndGlyphs">116.7E</text><text x="222.0" y="533.8" textLength="20.2" lengthAdjust="spacingAndGlyphs">117E</text><text x="258.0" y="533.8" textLength="27.5" lengthAdjust="spacingAndGlyphs">117.3E</text><text x="297.5" y="533.8" textLength="27.5" lengthAdjust="spacingAndGlyphs">117.6E</text><text x="337.1" y="533.8" textLength="27.5" lengthAdjust="spacingAndGlyphs">117.9E</text><text x="376.7" y="533.8" textLength="27.5" lengthAdjust="spacingAndGlyphs">118.2E</text><text x="416.2" y="533.8" textLength="27.5" lengthAdjust="spacingAndGlyphs">118.5E</text><text x="455.8" y="533.8" textLength="27.5" lengthAdjust="spacingAndGlyphs">118.8E</text><text x="5.6" y="71.1" textLength="23.1" lengthAdjust="spacingAndGlyphs">40.8N</text><text x="5.6" y="119.7" textLength="23.1" lengthAdjust="spacingAndGlyphs">40.5N</text><text x="5.6" y="168.4" textLength="23.1" lengthAdjust="spacingAndGlyphs">40.2N</text><text x="5.6" y="217.1" textLength="23.1" lengthAdjust="spacingAndGlyphs">39.9N</text><text x="5.6" y="265.8" textLength="23.1" lengthAdjust="spacingAndGlyphs">39.6N</text><text x="5.6" y="314.5" textLength="23.1" lengthAdjust="spacingAndGlyphs">39.3N</text><text x="12.8" y="363.2" textLength="15.9" lengthAdjust="spacingAndGlyphs">39N</text><text x="5.6" y="411.9" textLength="23.1" lengthAdjust="spacingAndGlyphs">38.7N</text><text x="5.6" y="460.6" textLength="23.1" lengthAdjust="spacingAndGlyphs">38.4N</text><text x="5.6" y="509.3" textLength="23.1" lengthAdjust="spacingAndGlyphs">38.1N</text></g>
<g>
<rect x="577.9" y="33.5" width="433.1" height="486.8" fill="#00c8c8"/>
<path fill="#00d28c" fill-rule="evenodd" d="M577.9,33.5 1011.0,33.5 1011.0,520.3 577.9,520.3ZM978.4,344.9 978.5,349.2 982.1,349.2 982.5,348.5 982.4,344.9ZM978.5,405.2 978.5,409.4 982.5,409.3 982.8,405.8 982.1,404.8Z"/>
<path fill="#00dc00" fill-rule="evenodd" d="M577.9,33.5 1011.0,33.5 1011.0,338.6 996.6,338.3 982.1,335.8 978.5,336.0 974.9,337.4 972.1,341.3 971.3,344.9 971.3,348.5 972.4,359.2 972.0,377.1 972.4,395.0 971.3,409.3 972.0,412.9 974.4,416.5 978.5,418.1 982.1,418.1 993.0,416.6 1011.0,417.0 1011.0,520.3 577.9,520.3ZM822.7,65.7 820.9,69.3 823.3,73.1 826.9,73.8 830.5,73.6 833.2,72.9 834.2,72.1 835.5,69.3 834.1,65.7 830.5,63.7 826.9,63.6ZM813.1,94.3 808.7,105.1 807.1,112.2 807.7,115.8 808.9,117.4 812.5,119.0 816.1,118.8 819.7,117.0 826.9,110.0 834.6,105.1 837.3,101.5 837.3,97.9 834.2,95.5 831.2,94.3 819.7,91.5 816.1,91.4ZM616.1,101.5 614.0,103.4 613.3,105.1 614.0,106.9 615.6,108.7 617.6,109.4 620.3,108.7 621.2,108.0 622.9,105.1 621.7,101.5 617.6,101.1ZM984.9,101.5 982.1,102.7 980.6,105.1 980.2,108.7 981.4,112.2 985.7,115.9 989.3,116.6 994.0,115.8 997.7,112.2 997.2,108.7 993.0,103.9 989.3,101.9ZM877.3,416.5 877.0,420.1 878.4,420.1 879.3,416.5Z"/>
<path fill="#78e600" fill-rule="evenodd" d="M577.9,33.5 677.0,33.5 677.0,37.1 678.2,40.7 680.7,44.2 686.2,48.9 689.8,49.8 693.4,49.5 700.6,47.4 704.2,46.2 707.3,44.2 708.9,40.7 709.2,33.5 1011.0,33.5 1011.0,46.3 1003.8,46.7 1000.2,48.3 997.9,51.4 995.1,58.6 993.0,60.3 989.3,60.9 974.9,60.9 971.2,62.1 968.7,65.7 967.6,72.9 967.3,80.0 968.8,94.3 968.0,97.9 964.8,101.5 960.5,103.7 956.9,106.3 955.1,108.7 954.2,112.2 955.5,115.8 956.9,117.2 960.5,118.9 964.1,119.3 971.3,118.9 985.7,122.5 993.0,122.6 1007.4,119.9 1011.0,119.9 1011.0,334.5 1000.2,333.8 985.7,329.9 982.1,329.9 974.9,331.2 971.3,333.0 970.2,334.2 968.4,337.8 967.5,344.9 967.8,395.0 967.3,409.3 968.0,416.5 969.5,420.1 971.3,421.9 974.9,423.2 1011.0,423.3 1011.0,520.3 577.9,520.3 577.9,234.7 595.9,234.6 599.6,233.9 603.2,232.1 611.3,223.2 620.6,216.1 623.0,212.5 623.0,208.9 621.2,207.2 617.6,206.8 611.4,208.9 603.2,214.6 599.6,216.1 592.3,217.5 577.9,218.0 577.9,196.1 581.5,196.1 585.1,194.3 587.9,191.0 589.5,187.4 589.3,183.8 588.7,183.3 585.1,181.5 577.9,180.9ZM826.9,57.8 819.7,59.6 815.7,62.1 812.0,65.7 809.7,69.3 807.6,76.5 805.4,94.3 803.4,101.5 801.6,105.1 798.8,108.7 794.4,112.2 791.8,115.8 793.2,126.6 791.3,130.1 784.5,137.3 782.9,140.9 782.6,144.5 783.6,148.0 787.2,151.5 790.8,152.4 794.5,152.3 805.3,149.9 816.1,149.2 826.9,147.4 830.5,147.6 837.8,149.9 841.4,150.3 845.0,149.4 848.6,145.9 852.2,140.1 855.8,136.1 859.4,134.8 870.2,135.8 873.9,134.3 881.1,126.6 884.7,123.7 892.1,119.4 895.0,115.8 896.0,112.2 895.1,108.7 891.9,106.1 883.4,101.5 877.5,90.9 873.9,89.8 863.0,90.3 859.4,89.8 855.8,86.9 850.7,80.0 845.0,75.2 843.3,72.9 840.2,65.7 837.7,62.1 834.2,59.4 830.5,58.1ZM742.0,76.5 738.3,80.0 737.7,83.6 738.6,87.2 740.3,89.7 743.9,91.8 747.5,91.8 754.7,89.6 759.3,87.2 762.3,83.6 762.5,80.0 762.0,78.9 760.4,76.5 758.4,74.6 754.7,73.5 751.1,73.6ZM929.4,76.5 925.3,80.0 923.2,83.6 924.4,87.6 928.0,89.4 935.2,91.5 942.4,92.5 946.0,91.8 949.6,88.9 950.8,87.2 951.7,83.6 950.9,80.0 947.7,76.5 946.0,75.4 942.4,74.0 938.8,73.5 935.2,73.8ZM617.9,94.3 610.4,96.4 607.0,97.9 604.4,101.5 605.0,105.1 606.9,108.7 609.8,112.2 614.0,114.8 617.6,115.4 621.2,114.7 625.6,112.2 632.0,103.4 636.8,97.9 632.9,94.3 628.4,93.4 624.8,93.3ZM681.7,94.3 679.0,95.7 676.6,97.9 675.1,101.5 675.1,105.1 675.8,108.7 679.0,116.8 682.6,119.8 686.2,119.7 697.0,117.0 704.2,116.4 711.4,116.7 722.3,118.2 729.5,118.0 734.2,115.8 736.3,112.2 735.9,108.7 733.1,105.1 729.5,103.6 722.3,103.1 711.4,103.7 704.2,103.1 700.6,102.0 697.0,100.0 689.8,95.3 686.2,94.0ZM924.3,108.7 922.7,112.2 922.6,115.8 924.4,119.5 928.0,120.9 931.6,121.0 935.7,119.4 938.4,115.8 938.6,112.2 937.0,108.7 935.2,106.9 931.6,105.4 928.0,105.9ZM956.7,133.7 953.3,136.2 952.5,137.3 952.6,140.9 955.7,144.5 960.5,146.2 964.1,146.3 968.1,144.5 968.9,140.9 967.6,137.3 964.1,134.3 960.5,133.3ZM916.8,294.8 913.6,295.6 909.5,298.4 907.3,302.0 906.6,305.5 907.2,309.1 909.1,312.7 913.6,317.1 917.2,319.1 920.8,319.1 924.4,315.1 927.3,309.1 928.8,305.5 929.0,302.0 926.9,298.4 924.4,296.8 920.8,295.2ZM917.0,405.8 909.9,408.6 902.7,410.0 891.9,410.5 881.1,409.2 877.5,409.3 873.9,410.3 869.8,412.9 863.0,419.6 859.4,421.7 854.3,423.7 852.2,425.4 850.8,427.2 851.8,430.8 855.8,434.5 859.4,435.7 863.0,435.4 870.2,432.9 873.9,432.2 877.5,432.7 880.2,434.4 881.1,436.2 881.7,438.0 881.2,441.6 879.0,445.1 877.5,446.4 866.6,452.3 865.5,455.9 867.6,459.4 870.2,461.8 873.9,464.0 877.5,464.8 888.3,462.6 899.1,463.4 902.7,463.0 906.3,461.0 913.6,451.4 921.9,445.1 928.0,436.5 936.4,430.8 938.8,427.2 939.1,423.7 937.6,416.5 936.0,412.9 932.0,409.3 928.0,407.7 920.8,405.5ZM1000.2,63.8 1003.8,63.1 1011.0,63.0 1011.0,105.7 1007.4,105.7 1003.8,104.1 996.6,98.2 985.7,91.1 983.5,87.2 983.5,83.6 985.5,80.0 994.2,72.9 997.9,65.7ZM825.6,80.0 830.5,79.0 835.9,80.0 838.0,83.6 836.2,87.2 834.2,88.3 830.5,88.7 825.6,87.2 822.8,83.6Z"/>
<path fill="#e6dc00" fill-rule="evenodd" d="M590.0,33.5 663.6,33.5 663.6,37.1 664.8,40.7 679.0,55.2 686.9,62.1 693.4,71.6 697.0,74.6 700.6,76.1 705.1,76.5 707.3,72.9 708.5,65.7 710.9,62.1 715.0,61.0 719.1,62.1 722.5,65.7 723.5,69.3 722.3,73.5 718.7,76.2 711.4,77.5 707.8,79.5 707.0,90.8 704.2,93.5 700.6,93.5 689.8,88.5 686.2,87.6 682.6,87.4 675.3,89.0 671.7,90.9 668.3,94.3 666.8,97.9 666.5,101.5 667.7,112.2 667.6,119.4 666.9,123.0 665.2,126.6 660.9,130.3 657.3,131.5 646.5,129.7 642.9,130.3 639.4,133.7 635.6,139.3 628.4,146.3 620.5,155.2 606.8,165.9 604.5,169.5 604.2,173.1 606.8,175.4 617.7,180.3 621.0,183.8 622.2,187.4 622.2,191.0 621.2,194.6 618.8,198.2 613.8,201.7 603.2,208.1 599.6,209.5 595.9,210.0 591.1,208.9 587.4,205.3 587.4,201.7 594.6,187.4 595.7,183.8 595.0,180.3 592.3,178.9 588.7,178.2 577.9,177.8 577.9,110.0 585.1,109.7 595.9,107.8 599.6,109.0 610.4,117.7 614.0,119.2 617.6,119.5 621.2,119.0 624.8,117.7 628.4,115.2 633.1,108.7 636.6,105.1 648.3,97.9 647.6,94.3 632.0,87.9 628.4,87.0 624.8,87.5 614.0,90.7 595.9,94.5 588.7,95.2 577.9,95.3 577.9,49.9 581.5,49.9 585.8,47.8 588.7,43.5 589.5,40.7ZM645.8,62.1 646.1,65.7 648.4,69.3 657.3,77.2 660.9,77.8 664.5,75.1 665.6,72.9 665.8,69.3 664.1,65.7 660.9,62.9 657.3,61.0 650.1,58.9 646.5,60.7ZM720.2,33.5 781.0,33.5 781.0,37.1 780.0,40.7 777.2,44.2 772.8,46.6 765.6,47.6 751.1,47.0 733.1,48.4 729.5,47.8 725.9,46.1 722.3,42.6 721.1,40.7 720.2,37.1ZM839.5,33.5 925.2,33.5 924.4,51.4 926.2,62.1 926.1,65.7 924.5,69.3 917.2,76.5 914.2,80.0 909.9,86.7 906.3,89.6 902.7,90.8 899.1,90.6 895.5,87.2 893.5,80.0 891.9,77.2 888.3,74.9 884.7,74.4 881.1,74.5 877.5,75.2 866.6,78.9 863.0,78.5 859.4,76.5 848.6,68.5 841.4,57.5 836.2,51.4 836.1,47.8 839.0,40.7ZM952.6,33.5 981.8,33.5 981.7,44.2 979.9,47.8 974.9,49.1 967.7,49.1 960.5,47.8 956.9,45.9 955.1,44.2 953.3,40.7ZM776.4,61.9 783.6,61.2 787.2,61.6 790.8,63.1 793.5,65.7 794.9,69.3 794.4,80.0 795.6,83.6 798.1,88.4 799.2,94.3 798.7,97.9 797.0,101.5 793.4,105.1 786.8,108.7 781.9,112.2 780.2,115.8 781.3,126.6 777.1,137.3 775.6,148.0 776.7,151.6 780.3,155.2 783.6,157.0 787.2,158.2 790.8,158.7 805.3,158.7 812.5,160.3 816.1,162.4 823.3,172.2 826.9,175.6 830.5,178.0 834.2,179.5 837.8,179.0 838.6,176.7 839.3,169.5 840.3,165.9 841.4,164.2 842.9,162.4 848.6,158.5 852.2,155.2 855.8,150.9 859.4,147.6 863.0,147.1 873.9,149.9 877.5,148.5 879.9,140.9 881.9,137.3 884.7,133.8 888.3,131.8 891.9,132.5 892.9,133.7 896.8,144.5 899.1,146.8 902.7,148.0 906.3,147.5 908.8,144.5 911.7,137.3 913.6,134.9 917.2,132.7 920.8,132.5 924.4,133.7 926.0,137.3 925.4,140.9 923.4,144.5 920.8,147.2 912.7,151.6 910.2,155.2 908.1,162.4 907.4,169.5 908.6,173.1 909.9,174.6 913.6,175.9 917.2,175.1 920.8,171.3 923.8,165.9 928.0,161.1 938.8,155.2 946.0,149.6 949.6,149.6 960.5,152.2 964.1,153.4 967.7,155.4 978.9,165.9 980.8,169.5 982.1,174.7 983.3,176.7 985.7,178.0 993.0,178.1 1003.8,176.7 1011.0,176.4 1011.0,330.4 1003.8,329.9 1000.2,328.7 996.6,327.0 987.2,319.9 982.2,312.7 974.9,305.2 967.7,295.7 965.4,294.8 960.5,294.7 956.9,296.1 953.2,298.4 949.6,301.9 946.0,304.2 942.4,304.2 938.8,301.6 936.2,298.4 931.7,294.8 920.8,289.5 917.2,288.6 913.6,288.5 902.7,291.0 899.1,289.6 895.5,284.8 891.2,276.9 888.3,274.3 885.3,273.3 881.1,273.4 870.2,275.9 848.6,275.3 845.0,275.6 840.5,276.9 838.5,280.5 836.0,291.2 835.8,294.8 836.7,298.4 837.8,299.4 841.4,301.2 845.0,301.5 848.6,300.8 853.6,298.4 859.4,293.7 863.0,292.0 866.6,291.4 870.2,291.6 873.9,292.7 877.5,295.1 880.3,298.4 881.9,302.0 882.5,305.5 882.0,309.1 879.5,312.7 870.5,319.9 867.9,323.4 868.2,327.0 875.1,330.6 881.1,330.9 884.9,330.6 888.3,329.8 894.0,327.0 899.1,321.4 902.7,320.2 906.3,321.8 911.0,327.0 911.7,330.6 911.1,334.2 909.3,337.8 902.7,345.8 899.8,352.1 900.1,355.6 902.7,358.9 909.9,363.4 912.6,366.4 913.8,370.0 914.3,377.1 914.2,391.4 912.5,398.6 909.5,402.2 906.3,404.2 902.7,405.4 895.5,406.2 881.1,405.2 873.9,405.9 870.2,407.4 859.4,415.7 855.8,416.8 845.0,417.3 841.4,418.0 838.1,420.1 837.9,423.7 839.4,427.2 844.4,434.4 850.6,441.6 852.4,445.1 852.8,448.7 852.6,455.9 854.0,459.4 863.0,466.0 867.1,470.2 868.2,473.8 866.7,484.5 867.9,488.1 870.2,490.5 873.9,492.1 888.3,492.0 891.9,493.5 893.7,495.2 895.5,498.8 896.1,502.4 895.0,520.3 577.9,520.3 577.9,266.0 585.1,265.3 602.4,259.0 606.8,256.9 610.4,254.5 624.9,241.1 625.4,237.5 623.7,233.9 620.7,230.4 620.6,226.8 623.5,223.2 632.9,216.0 636.0,212.5 636.7,208.9 637.0,201.7 638.0,198.2 646.5,187.4 647.5,183.8 646.5,180.0 642.9,176.7 637.8,173.1 636.0,169.5 637.0,165.9 640.6,162.4 646.6,158.8 657.3,150.0 671.7,145.8 674.4,144.5 678.8,140.9 693.0,126.6 699.4,123.0 704.2,122.3 707.8,122.3 725.9,124.0 743.9,122.5 754.7,122.8 758.4,122.4 762.0,121.0 764.2,119.4 765.9,115.8 765.0,112.2 761.6,108.7 755.1,105.1 751.3,101.5 752.3,97.9 765.6,88.4 768.7,83.6 769.1,80.0 766.0,69.3 767.5,65.7 772.8,62.9ZM917.7,191.0 912.6,194.6 910.4,198.2 909.4,201.7 909.8,205.3 913.6,207.3 917.2,207.8 924.4,207.5 931.6,205.7 937.2,201.7 939.8,198.2 941.0,194.6 941.0,191.0 938.8,188.7 935.2,188.1 924.4,189.1ZM941.3,219.6 938.1,223.2 938.1,226.8 942.3,230.4 949.6,232.2 956.9,232.2 963.0,230.4 967.4,226.8 969.0,223.2 968.0,219.6 964.1,217.6 960.5,216.9 949.6,217.0 946.0,217.7ZM835.0,323.4 834.6,327.0 837.0,330.6 841.4,333.4 845.0,334.1 848.6,332.5 850.9,330.6 851.8,327.0 846.7,323.4 841.4,322.3 837.8,322.3ZM855.8,376.9 837.8,377.5 834.9,380.7 837.2,384.3 841.4,387.1 848.6,389.9 855.8,390.2 859.4,389.0 860.9,387.9 863.2,384.3 862.8,380.7 859.4,377.7ZM935.2,333.7 946.0,334.0 953.3,333.0 956.9,333.0 960.5,334.4 962.5,337.8 963.5,344.9 963.3,409.3 962.3,416.5 960.5,420.1 956.9,422.3 953.3,423.0 949.6,422.6 946.0,420.1 941.0,409.3 938.8,406.3 928.0,400.4 926.1,398.6 924.9,395.0 925.1,391.4 926.9,384.3 927.5,377.1 926.1,366.4 923.1,355.6 922.8,352.1 923.6,344.9 924.7,341.3 928.0,336.5 931.6,334.4ZM946.0,506.0 960.5,506.0 971.3,503.3 982.1,502.5 993.0,503.3 1003.8,506.0 1011.0,506.6 1011.0,520.3 938.0,520.3 938.6,513.1 940.3,509.6 942.4,507.5Z"/>
<path fill="#f8b014" fill-rule="evenodd" d="M596.3,33.5 650.4,33.5 649.8,40.7 647.7,44.2 642.9,48.4 638.8,55.0 635.7,65.7 635.6,69.3 639.3,72.2 642.9,73.7 646.5,76.1 650.1,80.0 651.4,83.6 650.1,85.7 646.8,87.2 642.9,87.0 635.7,83.6 632.0,79.3 628.4,78.1 620.2,83.6 614.0,86.2 599.6,87.5 587.2,90.8 577.9,91.2 577.9,63.5 585.1,63.3 588.7,62.7 589.7,62.1 592.3,58.7 595.7,44.2ZM851.0,33.5 895.1,33.5 895.7,51.4 895.2,55.0 893.9,58.6 890.9,62.1 888.3,63.5 884.7,64.0 873.9,63.0 863.0,63.4 859.4,63.0 855.8,61.8 852.2,58.2 850.9,55.0 850.2,51.4ZM780.0,86.9 783.6,87.6 787.2,89.1 789.7,90.8 792.1,94.3 792.0,97.9 788.9,101.5 783.6,104.1 776.4,106.3 772.8,106.3 769.2,104.5 765.6,101.5 764.8,97.9 772.8,90.1 776.4,87.6ZM646.5,104.1 653.7,103.3 657.7,105.1 659.9,108.7 660.6,112.2 660.5,115.8 659.3,119.4 657.3,121.8 653.7,123.4 639.3,124.6 635.6,126.5 630.8,133.7 628.4,136.3 610.4,151.7 603.2,158.6 599.6,163.3 595.9,169.7 592.4,173.1 588.7,174.4 585.1,174.8 577.9,175.0 577.9,114.4 595.9,113.8 599.6,115.1 610.4,122.5 614.0,123.7 621.2,123.4 628.4,121.4 632.0,118.2 634.8,112.2 637.5,108.7 642.9,105.3ZM725.9,129.6 736.7,129.2 752.4,130.1 762.0,131.4 765.6,132.9 766.5,133.7 767.9,137.3 767.1,140.9 763.1,144.5 758.4,146.7 752.2,151.6 750.1,155.2 752.4,158.8 758.4,159.9 769.2,159.0 772.8,159.2 787.2,164.5 801.7,164.9 805.3,165.8 810.7,169.5 826.9,187.2 830.5,190.4 834.2,192.7 837.8,194.0 841.4,194.3 845.0,192.5 847.7,187.4 850.1,173.1 852.3,169.5 863.0,159.9 866.6,158.7 873.9,158.4 881.1,159.5 891.9,162.4 895.5,164.7 896.1,165.9 896.0,169.5 894.2,173.1 890.3,176.7 879.2,183.8 876.7,187.4 876.3,191.0 877.1,194.6 881.1,200.5 889.4,208.9 894.2,212.5 899.1,214.9 902.7,216.3 906.3,217.0 917.2,217.6 920.8,218.6 922.3,219.6 924.1,223.2 925.5,230.4 929.0,233.9 942.4,237.2 953.3,238.1 964.1,236.8 974.9,233.4 978.6,233.9 981.5,237.5 982.1,241.1 981.3,251.8 982.1,255.4 984.9,259.0 993.6,266.2 1000.2,274.9 1003.8,277.3 1007.4,278.2 1011.0,278.2 1011.0,304.0 1003.8,304.3 993.0,306.9 989.3,306.2 983.1,302.0 980.5,298.4 980.4,294.8 983.1,287.6 983.2,284.1 982.1,281.8 978.5,278.3 974.9,276.6 971.3,275.7 968.5,273.3 966.9,266.2 964.5,262.6 960.5,260.4 956.9,259.9 946.0,260.7 935.2,260.3 928.0,261.7 917.2,265.8 911.1,269.7 906.3,274.0 902.7,274.9 888.3,266.5 876.5,262.6 870.2,260.0 866.6,259.1 863.0,259.7 855.8,263.3 848.6,265.5 834.2,265.3 829.6,266.2 821.9,269.7 812.1,276.9 808.9,278.4 798.1,281.4 793.3,284.1 790.8,287.6 790.2,291.2 790.8,296.3 791.7,298.4 794.5,301.9 801.7,307.0 807.9,312.7 820.6,319.9 823.3,322.1 830.5,331.2 834.2,334.7 837.8,337.1 841.4,338.6 845.0,339.1 850.0,337.8 859.4,332.4 863.0,332.2 873.9,334.6 895.5,333.8 899.1,334.9 900.2,337.8 899.5,341.3 895.7,352.1 895.7,355.6 897.5,359.2 907.1,366.4 909.4,370.0 910.4,377.1 909.3,391.4 908.4,395.0 906.4,398.6 902.7,401.1 899.1,402.1 895.5,402.3 881.1,400.9 873.9,401.4 866.6,404.1 859.4,409.8 855.8,410.9 852.2,410.9 841.4,408.3 830.5,407.0 827.4,405.8 824.4,402.2 821.5,395.0 819.7,393.1 816.1,391.6 812.5,391.0 805.3,391.0 801.7,391.8 798.1,393.9 794.8,398.6 794.5,402.2 795.7,412.9 795.3,416.5 794.5,418.1 790.8,418.6 787.2,418.0 783.6,416.6 780.0,413.3 776.4,408.3 772.8,406.0 769.2,406.4 765.6,409.3 755.1,423.7 754.1,427.2 754.7,431.3 758.4,435.1 762.0,436.2 765.6,436.3 769.2,435.6 776.4,433.3 783.6,432.3 788.6,430.8 793.5,427.2 794.5,425.2 798.1,420.9 801.7,421.1 805.3,422.4 808.9,425.8 812.5,431.6 816.1,435.1 819.7,435.7 826.9,433.8 830.5,433.6 834.2,435.3 837.0,438.0 839.4,441.6 840.1,445.1 837.5,455.9 839.7,470.2 839.4,473.8 838.4,477.3 834.2,484.3 832.6,488.1 831.9,491.7 832.5,495.2 835.6,498.8 848.6,504.3 852.2,507.1 853.9,509.6 855.0,513.1 855.3,520.3 577.9,520.3 577.9,273.5 585.1,273.1 588.7,272.0 610.4,261.1 614.0,258.7 628.9,244.7 630.9,241.1 633.8,230.4 635.6,228.0 642.9,222.6 645.0,219.6 646.7,216.0 647.3,212.5 646.2,201.7 647.0,198.2 653.0,187.4 654.2,183.8 654.4,180.3 653.9,176.7 652.0,169.5 653.5,165.9 658.7,158.8 664.5,154.7 686.2,147.6 689.8,148.5 693.4,150.5 697.0,151.0 700.6,149.2 709.3,140.9 714.4,133.7 718.7,131.3ZM780.6,366.4 778.0,370.0 777.8,373.5 780.5,377.1 783.6,378.3 787.2,378.5 790.8,377.7 795.1,373.5 795.7,370.0 793.6,366.4 790.8,365.0 787.2,364.4 783.6,364.9ZM825.9,366.4 823.3,368.2 821.9,370.0 821.3,373.5 821.8,377.1 824.4,384.3 827.0,387.9 830.5,389.9 845.0,394.7 852.2,395.6 855.8,395.5 859.4,394.9 863.0,393.4 865.2,391.4 867.9,387.9 869.4,384.3 870.0,380.7 869.6,377.1 866.6,373.5 863.0,372.6 859.4,372.4 845.0,372.3 841.4,371.2 830.5,366.0ZM739.6,484.5 737.4,488.1 736.1,491.7 735.4,495.2 735.8,498.8 740.3,503.5 743.9,504.8 747.5,504.1 751.1,501.8 754.7,497.9 756.0,495.2 756.7,491.7 756.5,488.1 754.9,484.5 751.1,482.4 747.5,481.8 743.9,482.2ZM682.0,491.7 679.6,495.2 679.2,498.8 680.4,502.4 682.6,504.8 686.2,507.0 693.4,508.9 697.0,508.9 700.6,507.9 703.8,506.0 707.1,502.4 707.9,498.8 703.8,495.2 689.8,491.1 686.2,490.5ZM935.2,163.3 953.3,158.0 959.0,158.8 964.1,162.2 967.2,165.9 969.1,169.5 969.5,173.1 968.5,180.3 968.8,183.8 971.3,188.2 974.9,190.3 978.5,190.5 989.3,188.8 993.0,189.5 995.2,191.0 996.8,194.6 996.6,198.2 995.3,201.7 993.0,204.4 989.3,206.2 985.7,206.7 964.1,207.3 956.9,206.6 953.7,205.3 952.0,201.7 952.7,187.4 952.2,183.8 949.6,179.4 946.0,177.6 931.6,179.8 928.0,178.3 926.9,176.7 926.8,173.1 927.8,169.5 930.6,165.9ZM603.2,186.3 606.8,185.9 610.4,187.4 612.4,191.0 612.1,194.6 609.8,198.2 606.8,200.5 603.2,202.6 599.6,203.3 595.8,201.7 595.1,198.2 596.2,194.6 599.6,189.1ZM931.6,275.9 935.2,275.4 946.0,277.0 964.1,275.8 967.3,276.9 967.6,280.5 966.7,284.1 963.3,287.6 946.0,293.5 942.4,293.2 929.1,287.6 924.6,284.1 924.7,280.5 928.0,277.5ZM863.0,301.7 866.6,301.6 870.2,304.1 871.0,305.5 870.5,309.1 867.7,312.7 863.0,316.7 859.4,318.9 855.8,319.5 845.0,317.3 841.8,316.3 837.8,312.7 839.0,309.1ZM953.3,405.2 954.6,405.8 956.9,409.3 953.3,413.0 951.4,409.3ZM974.9,509.1 982.1,508.2 990.6,509.6 996.2,513.1 997.9,516.7 998.0,520.3 966.6,520.3 966.6,516.7 968.3,513.1 971.3,510.8Z"/>
<path fill="#ff8719" fill-rule="evenodd" d="M604.3,33.5 637.2,33.5 636.5,40.7 632.4,55.0 630.8,58.6 628.4,62.7 623.0,69.3 618.3,76.5 614.0,79.9 610.0,80.0 606.8,77.8 605.8,76.5 605.5,72.9 606.3,58.6 604.5,40.7ZM577.9,72.8 585.1,73.3 588.7,74.7 591.6,76.5 593.7,80.0 591.9,83.6 585.1,86.7 577.9,87.2ZM646.5,108.2 650.5,108.7 653.7,112.0 653.1,115.8 650.1,118.2 646.5,119.2 642.9,119.1 639.3,116.9 638.7,115.8 639.3,112.2 642.9,109.2ZM577.9,118.3 592.3,118.4 596.5,119.4 601.9,123.0 605.2,126.6 606.7,130.1 602.5,133.7 595.9,137.4 592.1,140.9 589.9,144.5 589.7,148.0 593.3,155.2 593.7,158.8 592.1,165.9 588.7,170.1 585.1,171.5 577.9,172.0ZM725.9,137.1 729.5,135.6 736.7,134.8 743.9,135.6 749.3,137.3 751.5,140.9 749.3,144.5 743.9,149.0 739.1,151.6 736.0,155.2 737.3,158.8 740.5,162.4 743.9,164.8 747.5,166.1 754.7,166.3 769.2,165.1 772.8,165.6 776.4,167.1 779.7,169.5 781.1,173.1 780.2,180.3 780.4,183.8 783.6,186.6 785.6,187.4 798.1,190.0 801.7,191.6 805.0,194.6 809.2,201.7 812.5,205.2 816.1,206.8 819.7,207.4 826.9,206.9 845.0,203.7 848.6,201.9 851.4,198.2 852.2,196.1 854.8,183.8 856.1,180.3 858.6,176.7 866.6,167.7 870.2,165.2 873.9,164.6 879.4,165.9 882.6,169.5 881.5,173.1 871.8,180.3 869.4,183.8 868.6,187.4 868.4,194.6 868.9,198.2 870.2,201.7 873.0,205.3 882.3,212.5 904.4,223.2 909.6,226.8 910.3,230.4 909.1,237.5 910.3,241.1 914.4,244.7 920.6,248.3 923.9,251.8 922.8,255.4 918.7,259.0 909.9,264.2 906.3,265.8 902.7,266.6 899.1,265.9 892.1,262.6 886.5,259.0 881.1,254.4 877.5,252.6 866.6,250.9 859.4,251.7 848.6,257.8 845.0,258.9 834.2,259.0 830.5,259.6 816.5,266.2 804.0,273.3 790.8,275.5 787.2,277.5 783.8,280.5 781.3,284.1 781.4,287.6 785.6,305.5 787.2,307.6 805.3,318.9 816.1,323.8 819.7,326.5 830.5,337.6 837.8,342.4 841.4,343.5 845.0,343.7 848.6,343.0 859.4,338.5 863.0,337.9 873.9,338.8 888.3,338.5 891.9,340.1 892.9,341.3 893.1,344.9 891.3,355.6 892.2,359.2 895.2,362.8 902.7,367.4 905.2,370.0 906.6,373.5 906.5,380.7 904.1,391.4 902.7,394.5 899.1,396.3 895.5,395.9 893.8,395.0 893.0,391.4 893.5,387.9 893.2,384.3 891.5,380.7 888.3,376.5 882.1,370.0 877.5,363.8 873.9,361.9 870.2,362.8 863.0,366.4 859.4,367.4 852.2,368.4 848.6,368.3 845.0,367.6 842.3,366.4 834.2,361.1 830.5,359.4 826.9,358.8 822.4,359.2 812.5,362.1 808.9,362.1 798.9,359.2 794.5,358.6 787.2,358.3 780.0,358.9 776.4,359.8 772.8,361.7 769.2,366.0 764.2,373.5 762.0,375.5 758.6,377.1 754.7,378.3 747.5,378.9 743.9,378.5 740.3,377.2 736.9,373.5 736.7,369.7 738.3,366.4 740.3,364.4 747.7,359.2 751.1,355.6 752.6,352.1 753.1,348.5 751.6,316.3 751.0,312.7 749.7,309.1 747.5,306.8 743.9,305.9 733.1,306.5 729.5,306.3 727.3,305.5 725.9,304.8 723.6,302.0 720.3,294.8 718.7,293.0 715.0,291.0 711.4,290.1 707.8,289.9 704.2,290.3 700.6,291.9 697.0,294.6 693.4,299.1 692.0,302.0 691.4,305.5 691.8,309.1 693.0,312.7 695.7,316.3 704.2,322.9 711.4,331.4 715.0,333.2 718.7,333.4 729.5,332.8 733.1,334.4 735.5,337.8 735.8,341.3 734.4,344.9 733.1,346.6 729.5,349.5 725.9,350.6 718.7,350.4 704.2,347.0 697.0,347.4 693.4,349.7 692.1,352.1 691.8,355.6 693.4,359.1 704.2,364.6 706.3,366.4 708.1,370.0 707.8,371.7 707.5,373.5 704.2,376.4 697.0,380.7 689.8,389.4 686.2,391.3 682.6,392.5 678.6,395.0 677.4,398.6 677.5,402.2 679.4,409.3 679.7,412.9 677.3,423.7 677.6,427.2 679.0,430.0 682.6,432.9 686.2,433.4 689.8,431.8 697.0,422.3 700.6,420.2 704.2,419.1 706.8,416.5 708.4,409.3 711.2,405.8 715.0,404.4 718.7,404.3 733.1,406.4 743.9,405.6 747.5,405.8 751.1,407.1 753.0,409.3 752.9,412.9 749.8,420.1 746.8,430.8 743.9,435.1 740.3,435.7 736.7,435.2 729.5,433.0 725.9,429.9 721.8,423.7 718.7,421.3 715.0,420.1 710.1,420.1 708.0,423.7 708.3,427.2 709.5,430.8 711.4,433.3 719.2,438.0 725.9,446.5 736.8,455.9 740.3,457.7 754.7,460.8 758.4,462.4 761.7,466.6 763.3,470.2 765.6,473.4 769.2,474.3 774.6,473.8 780.0,471.3 790.5,463.0 793.9,459.5 794.5,455.5 792.0,452.3 783.8,448.7 780.0,445.3 780.3,441.6 785.1,438.0 798.1,433.2 801.7,433.0 805.3,436.3 808.9,442.6 812.5,447.3 823.3,455.1 826.9,458.2 831.0,463.0 832.7,466.6 833.3,470.2 832.8,473.8 826.8,488.1 825.9,495.2 826.8,498.8 830.5,502.6 841.4,507.1 845.6,509.6 848.4,513.1 849.3,516.7 849.3,520.3 752.4,520.3 752.5,516.7 753.4,513.1 760.5,502.4 762.0,498.8 762.3,491.7 761.4,484.5 760.3,480.9 758.4,478.8 751.1,477.8 740.3,478.8 736.1,480.9 729.5,490.7 725.9,493.0 722.3,493.3 711.4,489.6 700.3,488.1 693.2,484.5 691.0,480.9 690.9,477.3 694.4,466.6 694.0,459.4 693.0,455.9 690.5,452.3 686.2,449.9 679.0,448.4 675.3,448.2 671.7,448.7 668.1,450.8 662.8,459.4 660.9,461.5 657.3,463.1 646.5,462.5 642.9,462.8 639.3,465.0 632.6,473.8 624.8,478.4 622.2,480.9 621.2,484.5 622.3,488.1 624.8,490.6 632.4,495.2 639.3,503.3 647.7,509.6 650.1,513.1 650.9,516.7 650.9,520.3 593.0,520.3 592.4,513.1 590.6,509.6 588.7,507.8 585.1,506.0 577.9,505.4 577.9,279.8 588.7,279.1 595.9,276.5 617.3,262.6 624.0,255.4 632.0,248.0 638.5,233.9 646.8,226.8 650.1,222.6 653.3,216.0 654.2,212.5 653.7,201.7 654.1,198.2 660.5,183.8 660.9,180.3 660.6,169.5 661.6,165.9 664.5,161.7 668.1,159.2 671.7,158.0 675.3,157.7 679.0,158.2 682.6,160.1 686.2,164.1 689.8,166.7 693.4,167.2 697.0,166.5 700.6,163.6 704.3,155.2 707.8,150.2 711.4,146.9 721.2,140.9ZM645.1,259.0 642.9,260.0 639.6,262.6 637.1,266.2 635.6,269.7 635.9,273.3 639.3,276.3 646.5,278.5 653.7,279.1 657.3,278.1 663.9,273.3 665.8,269.7 664.1,266.2 660.1,262.6 653.7,258.8 650.1,258.3ZM653.7,305.0 650.1,306.7 648.7,309.1 648.0,312.7 648.3,316.3 650.4,327.0 648.8,337.8 649.0,341.3 650.3,344.9 653.7,348.2 657.3,348.3 660.9,345.9 668.1,339.1 676.1,334.2 678.8,330.6 679.0,327.0 676.9,323.4 668.0,316.3 663.8,309.1 660.9,306.2 657.3,305.0ZM629.0,362.8 624.8,366.0 621.5,370.0 620.1,373.5 620.2,377.1 621.0,380.7 622.3,384.3 624.4,387.9 628.4,391.1 635.6,394.5 639.3,394.7 642.9,392.7 645.2,387.9 649.3,373.5 649.8,370.0 648.4,366.4 646.5,364.7 642.9,363.0 635.6,361.4 632.0,361.6ZM718.7,505.3 722.3,504.7 725.9,505.4 729.5,507.1 732.7,509.6 735.6,513.1 736.7,516.7 736.7,520.3 706.3,520.3 706.4,516.7 708.2,513.1 715.0,507.1Z"/>
<path fill="#ff3c3c" fill-rule="evenodd" d="M577.9,122.6 588.7,123.4 592.3,125.3 593.7,126.6 592.9,130.1 589.3,133.7 585.1,136.2 581.5,137.2 577.9,137.2ZM715.0,150.9 718.7,150.1 722.3,151.3 726.7,158.8 729.5,162.4 740.2,173.1 747.5,176.9 750.4,180.3 751.6,191.0 751.4,194.6 750.2,198.2 747.6,201.7 740.3,208.9 729.5,217.2 727.5,219.6 725.9,223.2 725.4,226.8 726.0,230.4 729.5,234.6 733.1,235.2 743.9,233.5 747.5,234.4 750.4,237.5 751.5,241.1 751.8,244.7 749.5,269.7 747.5,274.0 743.0,276.9 740.3,277.5 733.1,277.4 725.9,275.4 723.3,273.3 722.3,269.7 723.8,259.0 723.7,255.4 722.3,251.8 718.7,248.2 715.0,247.1 711.4,247.4 710.0,248.3 704.8,259.0 696.1,266.2 694.5,269.7 694.2,280.5 693.1,284.1 690.4,287.6 686.2,291.1 682.6,292.6 675.3,292.7 668.1,291.4 664.0,287.6 664.9,284.1 667.7,280.5 675.1,273.3 676.9,269.7 676.7,266.2 673.5,262.6 668.1,259.1 664.3,255.4 660.9,250.8 657.3,249.5 646.5,251.1 642.9,251.2 639.1,248.3 639.0,244.7 639.9,241.1 642.9,236.2 650.6,230.4 653.6,226.8 659.3,216.0 660.3,212.5 660.3,198.2 661.7,194.6 666.1,187.4 667.6,183.8 667.7,180.3 666.5,173.1 666.8,169.5 668.1,166.8 671.7,164.4 675.3,164.8 679.0,167.4 682.6,170.9 686.2,173.0 693.4,174.0 700.7,173.1 704.2,171.7 707.7,169.5 709.2,165.9 709.4,158.8 710.5,155.2ZM581.5,160.5 584.5,162.4 583.8,165.9 581.5,166.9 577.9,166.9 577.9,160.4ZM783.6,194.3 787.2,193.8 791.8,194.6 796.6,198.2 797.4,201.7 794.9,205.3 787.2,207.6 783.6,209.4 776.4,219.0 772.8,220.6 769.2,220.2 768.0,219.6 764.8,216.0 764.3,212.5 765.5,208.9 769.2,205.9 776.2,201.7 780.0,196.9ZM816.1,218.2 823.3,216.9 830.5,217.6 834.2,219.6 835.9,223.2 836.4,226.8 835.9,230.4 834.2,232.5 826.9,235.8 824.3,237.5 822.3,241.1 822.8,244.7 825.3,251.8 824.1,255.4 823.3,256.1 818.9,259.0 816.1,259.9 812.5,260.0 810.4,259.0 808.9,257.6 805.3,251.5 801.7,248.8 798.1,248.2 787.2,249.0 783.6,247.6 780.8,244.7 779.6,241.1 780.4,237.5 783.6,233.8 787.2,232.4 801.7,232.6 805.3,231.2 808.9,227.5 812.5,220.9ZM863.0,219.1 870.2,218.7 877.5,219.4 888.3,221.7 892.1,223.2 896.6,226.8 897.2,230.4 895.5,232.1 884.7,237.2 877.5,244.0 875.9,244.7 870.2,245.4 859.4,245.2 855.8,246.3 848.6,250.2 845.0,251.3 841.4,250.3 839.4,248.3 838.7,244.7 839.5,237.5 841.4,235.3 848.6,231.6 850.1,230.4 855.8,223.0 859.4,220.2ZM899.1,247.5 902.7,247.0 906.5,248.3 911.2,251.8 911.9,255.4 908.0,259.0 906.3,259.8 902.7,260.5 897.4,259.0 893.6,255.4 893.7,251.8 895.5,249.8ZM769.2,262.5 772.8,261.3 776.4,261.7 777.8,262.6 780.8,266.2 781.1,269.7 779.0,273.3 776.4,275.3 772.8,276.6 769.2,275.9 766.5,273.3 765.4,269.7 766.2,266.2ZM617.6,291.2 624.8,290.8 628.4,291.4 632.0,293.0 633.7,294.8 636.2,302.0 637.2,309.1 636.9,312.7 635.5,316.3 632.0,318.7 624.8,320.2 617.6,320.5 613.8,319.9 610.4,318.1 608.7,316.3 607.0,312.7 606.3,309.1 606.3,302.0 607.1,298.4 610.4,293.9 614.0,292.0ZM769.2,290.9 772.8,291.2 776.4,294.1 777.9,298.4 777.3,302.0 776.4,303.6 772.8,305.9 769.2,306.1 767.8,305.5 765.6,304.0 764.4,302.0 763.8,298.4 764.6,294.8 765.6,293.2ZM787.2,316.3 790.8,317.1 794.5,318.9 801.7,323.6 812.5,328.5 815.5,330.6 823.8,341.3 825.8,344.9 823.3,348.3 808.9,351.7 790.8,352.9 780.0,351.7 772.8,349.3 769.2,347.4 766.7,344.9 765.6,342.7 764.4,337.8 764.7,330.6 765.9,327.0 769.4,323.4 780.0,317.5 783.6,316.4ZM859.4,344.8 864.9,344.9 866.6,345.6 869.7,348.5 868.0,352.1 865.4,355.6 862.2,359.2 859.4,361.2 855.8,362.8 852.2,363.4 848.6,363.2 845.0,361.9 841.4,359.4 838.2,355.6 837.2,352.1 837.8,351.7ZM880.0,344.9 884.8,344.9 885.4,348.5 884.7,350.0 881.1,350.5 877.8,348.5ZM577.9,347.1 595.9,347.5 606.8,346.8 614.0,347.1 617.8,348.5 621.0,352.1 621.1,355.6 619.2,359.2 617.6,361.0 614.0,363.7 610.4,364.9 606.8,365.0 592.3,363.1 577.9,362.9ZM671.7,346.0 675.3,345.4 679.0,347.1 680.0,348.5 681.2,352.1 681.1,355.6 679.0,360.3 675.3,362.8 671.7,363.6 668.1,363.0 664.5,360.0 663.8,355.6 665.5,352.1 668.1,348.7ZM899.1,372.0 900.4,373.5 899.1,377.4 896.2,373.5ZM577.9,378.1 585.1,378.7 588.7,380.6 592.1,384.3 593.4,387.9 593.8,391.4 593.5,395.0 592.3,398.7 588.7,403.2 585.1,405.3 581.5,406.1 577.9,406.2ZM657.3,377.8 660.9,377.7 664.2,380.7 666.1,384.3 667.4,391.4 666.7,398.6 664.5,402.4 660.9,404.3 656.3,405.8 653.7,407.5 649.7,416.5 646.5,420.0 642.9,421.0 639.8,420.1 636.7,416.5 635.9,412.9 636.2,409.3 638.5,405.8 646.5,402.1 649.2,398.6 652.5,384.3 653.7,381.5ZM610.4,405.7 614.0,404.8 617.6,405.5 620.6,409.3 620.9,412.9 620.0,416.5 617.6,419.7 614.0,421.2 610.4,420.8 609.0,420.1 605.9,416.5 605.4,412.9 606.4,409.3ZM808.9,459.3 812.5,458.9 819.7,460.8 823.3,463.0 826.6,466.6 827.9,470.2 827.6,473.8 821.3,491.7 819.9,498.8 820.2,502.4 822.2,506.0 823.3,506.8 834.2,510.0 840.5,513.1 842.5,516.7 842.6,520.3 762.7,520.3 762.7,516.7 763.7,513.1 767.6,506.0 768.7,502.4 768.9,498.8 767.5,488.1 767.9,484.5 769.2,482.6 772.8,480.5 783.6,479.0 786.9,477.3 805.3,461.0ZM736.2,466.6 740.3,464.4 743.9,464.2 747.5,464.8 751.9,466.6 753.5,470.2 751.1,472.3 747.5,473.8 740.3,473.7 736.7,471.4 735.8,470.2Z"/>
<path fill="#ff0082" fill-rule="evenodd" d="M682.6,179.6 700.6,179.6 715.0,177.3 718.7,178.6 724.3,187.4 725.9,188.8 736.7,193.2 737.9,194.6 737.9,198.2 736.1,201.7 732.9,205.3 725.9,210.2 722.3,214.1 720.2,219.6 718.5,230.4 716.6,233.9 715.0,235.1 711.4,235.4 704.2,233.8 700.6,233.6 699.7,233.9 697.0,235.6 695.8,237.5 693.1,244.7 689.8,247.8 686.2,248.4 682.6,247.8 679.1,244.7 675.3,236.6 671.7,233.6 663.7,230.4 662.3,226.8 666.1,216.0 666.9,212.5 666.3,201.7 667.0,198.2 669.0,194.6 675.0,187.4 679.0,180.9ZM783.6,323.4 787.2,322.9 790.8,323.8 807.1,334.2 809.7,337.8 809.5,341.3 805.5,344.9 798.1,346.7 790.8,346.7 787.2,346.0 783.6,344.6 779.4,341.3 776.9,337.8 775.9,334.2 776.2,330.6 778.3,327.0ZM812.5,466.3 816.1,466.1 819.7,467.7 821.7,470.2 822.3,473.8 821.6,477.3 819.0,484.5 816.1,491.1 810.9,498.8 809.7,502.4 809.4,506.0 810.0,520.3 794.3,520.3 794.3,516.7 793.5,513.1 791.2,509.6 783.6,505.2 779.8,502.4 778.1,498.8 777.2,495.2 777.3,491.7 780.0,490.1 787.2,489.9 792.1,488.1 794.5,486.2 800.5,477.3 806.7,470.2 808.9,468.2Z"/>
<g>
<polygon points="615.4,47 625,45.5 629,52 620,55.5" fill="#ff3c3c"/>
<polygon points="614,106 619,99.5 630,99 631,103 624,110 615,110.5" fill="#00d28c"/>
<polygon points="815,104 821,99.5 828,101 826,105.5 819,108" fill="#00c8c8"/>
<polygon points="824,66 829,63.5 833,66 829,69" fill="#00c8c8"/>
<polygon points="888.7,254.5 896,249 905.5,244.6 919,247.7 917.9,256.7 908.9,259.6 898,258.5" fill="#ff3c3c"/>
<polygon points="906,250 910,245.8 914.5,247.5 911,253" fill="#ff0082"/>
</g>

<g stroke="#28e000" stroke-opacity="0.4" stroke-width="0.7"><line x1="577.9" x2="1011.0" y1="38.0" y2="38.0"/><line x1="577.9" x2="1011.0" y1="62.3" y2="62.3"/><line x1="577.9" x2="1011.0" y1="86.7" y2="86.7"/><line x1="577.9" x2="1011.0" y1="111.0" y2="111.0"/><line x1="577.9" x2="1011.0" y1="135.4" y2="135.4"/><line x1="577.9" x2="1011.0" y1="159.7" y2="159.7"/><line x1="577.9" x2="1011.0" y1="184.0" y2="184.0"/><line x1="577.9" x2="1011.0" y1="208.4" y2="208.4"/><line x1="577.9" x2="1011.0" y1="232.7" y2="232.7"/><line x1="577.9" x2="1011.0" y1="257.1" y2="257.1"/><line x1="577.9" x2="1011.0" y1="281.4" y2="281.4"/><line x1="577.9" x2="1011.0" y1="305.7" y2="305.7"/><line x1="577.9" x2="1011.0" y1="330.1" y2="330.1"/><line x1="577.9" x2="1011.0" y1="354.4" y2="354.4"/><line x1="577.9" x2="1011.0" y1="378.8" y2="378.8"/><line x1="577.9" x2="1011.0" y1="403.1" y2="403.1"/><line x1="577.9" x2="1011.0" y1="427.4" y2="427.4"/><line x1="577.9" x2="1011.0" y1="451.8" y2="451.8"/><line x1="577.9" x2="1011.0" y1="476.1" y2="476.1"/><line x1="577.9" x2="1011.0" y1="500.5" y2="500.5"/></g>
<polygon points="878.7,329.7 884.2,322.5 890.5,322.5 895.9,330.3 890.5,337.8 903.1,337.8 914.8,354.0 940.0,354.0 955.3,339.6 972.5,339.3 977.9,345.0 971.2,354.0 995.9,354.0 995.9,346.8 1001.8,338.7 1011.3,338.7 1011.3,495.0 1010.3,495.0 1007.3,491.7 983.8,491.7 977.9,500.3 933.8,500.3 927.0,491.7 915.2,491.7 909.4,483.9 902.5,483.9 896.6,475.4 883.9,475.4 878.0,467.6 878.0,458.8 859.4,434.3 859.4,426.5 847.6,410.8 853.5,404.5 853.5,387.4 859.8,378.4 859.8,370.3 865.2,363.1 872.4,362.2 872.4,353.1 878.7,345.0" fill="#fff" />
</g>
<g>
<polygon points="946.3,370.3 952.6,361.8 964.7,361.8 964.7,370.6 939.7,370.6" fill="#f8b014"/>
<polygon points="939.7,370.6 964.7,370.6 964.7,369.6 945.5,369.6" fill="#78e600"/>
<polyline points="888.5,318 846.3,371.2 840.8,400 835.9,427.4 876,478.4 927,519.8" fill="none" stroke="#222" stroke-width="0.7" stroke-opacity="0.85"/>
<polyline points="888.5,318 938.2,346.8 1010.3,331" fill="none" stroke="#222" stroke-width="0.7" stroke-opacity="0.85"/>
</g>

<rect x="577.9" y="33.5" width="433.1" height="486.8" fill="none" stroke="#0a0a0a" stroke-width="1.3"/>
<line x1="577.9" x2="577.9" y1="520.3" y2="522.9" stroke="#0a0a0a" stroke-width="1.1"/>
<line x1="615.0" x2="615.0" y1="520.3" y2="522.9" stroke="#0a0a0a" stroke-width="1.1"/>
<line x1="652.1" x2="652.1" y1="520.3" y2="522.9" stroke="#0a0a0a" stroke-width="1.1"/>
<line x1="689.3" x2="689.3" y1="520.3" y2="522.9" stroke="#0a0a0a" stroke-width="1.1"/>
<line x1="726.4" x2="726.4" y1="520.3" y2="522.9" stroke="#0a0a0a" stroke-width="1.1"/>
<line x1="763.5" x2="763.5" y1="520.3" y2="522.9" stroke="#0a0a0a" stroke-width="1.1"/>
<line x1="800.6" x2="800.6" y1="520.3" y2="522.9" stroke="#0a0a0a" stroke-width="1.1"/>
<line x1="837.8" x2="837.8" y1="520.3" y2="522.9" stroke="#0a0a0a" stroke-width="1.1"/>
<line x1="874.9" x2="874.9" y1="520.3" y2="522.9" stroke="#0a0a0a" stroke-width="1.1"/>
<line x1="912.0" x2="912.0" y1="520.3" y2="522.9" stroke="#0a0a0a" stroke-width="1.1"/>
<line x1="949.1" x2="949.1" y1="520.3" y2="522.9" stroke="#0a0a0a" stroke-width="1.1"/>
<line x1="986.3" x2="986.3" y1="520.3" y2="522.9" stroke="#0a0a0a" stroke-width="1.1"/>
<line x1="575.1" x2="577.9" y1="66.0" y2="66.0" stroke="#0a0a0a" stroke-width="1.1"/>
<line x1="575.1" x2="577.9" y1="114.6" y2="114.6" stroke="#0a0a0a" stroke-width="1.1"/>
<line x1="575.1" x2="577.9" y1="163.3" y2="163.3" stroke="#0a0a0a" stroke-width="1.1"/>
<line x1="575.1" x2="577.9" y1="212.0" y2="212.0" stroke="#0a0a0a" stroke-width="1.1"/>
<line x1="575.1" x2="577.9" y1="260.7" y2="260.7" stroke="#0a0a0a" stroke-width="1.1"/>
<line x1="575.1" x2="577.9" y1="309.4" y2="309.4" stroke="#0a0a0a" stroke-width="1.1"/>
<line x1="575.1" x2="577.9" y1="358.0" y2="358.0" stroke="#0a0a0a" stroke-width="1.1"/>
<line x1="575.1" x2="577.9" y1="406.7" y2="406.7" stroke="#0a0a0a" stroke-width="1.1"/>
<line x1="575.1" x2="577.9" y1="455.4" y2="455.4" stroke="#0a0a0a" stroke-width="1.1"/>
<line x1="575.1" x2="577.9" y1="504.1" y2="504.1" stroke="#0a0a0a" stroke-width="1.1"/>
<g class="tick"><text x="564.5" y="532.8" textLength="27.5" lengthAdjust="spacingAndGlyphs">115.5E</text><text x="601.6" y="532.8" textLength="27.5" lengthAdjust="spacingAndGlyphs">115.8E</text><text x="638.7" y="532.8" textLength="27.5" lengthAdjust="spacingAndGlyphs">116.1E</text><text x="675.8" y="532.8" textLength="27.5" lengthAdjust="spacingAndGlyphs">116.4E</text><text x="713.0" y="532.8" textLength="27.5" lengthAdjust="spacingAndGlyphs">116.7E</text><text x="753.7" y="532.8" textLength="20.2" lengthAdjust="spacingAndGlyphs">117E</text><text x="787.2" y="532.8" textLength="27.5" lengthAdjust="spacingAndGlyphs">117.3E</text><text x="824.3" y="532.8" textLength="27.5" lengthAdjust="spacingAndGlyphs">117.6E</text><text x="861.4" y="532.8" textLength="27.5" lengthAdjust="spacingAndGlyphs">117.9E</text><text x="898.6" y="532.8" textLength="27.5" lengthAdjust="spacingAndGlyphs">118.2E</text><text x="935.7" y="532.8" textLength="27.5" lengthAdjust="spacingAndGlyphs">118.5E</text><text x="972.8" y="532.8" textLength="27.5" lengthAdjust="spacingAndGlyphs">118.8E</text><text x="549.5" y="70.2" textLength="23.1" lengthAdjust="spacingAndGlyphs">40.8N</text><text x="549.5" y="118.8" textLength="23.1" lengthAdjust="spacingAndGlyphs">40.5N</text><text x="549.5" y="167.5" textLength="23.1" lengthAdjust="spacingAndGlyphs">40.2N</text><text x="549.5" y="216.2" textLength="23.1" lengthAdjust="spacingAndGlyphs">39.9N</text><text x="549.5" y="264.9" textLength="23.1" lengthAdjust="spacingAndGlyphs">39.6N</text><text x="549.5" y="313.6" textLength="23.1" lengthAdjust="spacingAndGlyphs">39.3N</text><text x="556.7" y="362.2" textLength="15.9" lengthAdjust="spacingAndGlyphs">39N</text><text x="549.5" y="410.9" textLength="23.1" lengthAdjust="spacingAndGlyphs">38.7N</text><text x="549.5" y="459.6" textLength="23.1" lengthAdjust="spacingAndGlyphs">38.4N</text><text x="549.5" y="508.3" textLength="23.1" lengthAdjust="spacingAndGlyphs">38.1N</text></g>
<rect x="90.60" y="561.0" width="35.12" height="12.1" fill="#0a32ff"/>
<rect x="125.42" y="561.0" width="35.12" height="12.1" fill="#00a0ff"/>
<rect x="160.24" y="561.0" width="35.12" height="12.1" fill="#00c8c8"/>
<rect x="195.05" y="561.0" width="35.12" height="12.1" fill="#00d28c"/>
<rect x="229.87" y="561.0" width="35.12" height="12.1" fill="#00dc00"/>
<rect x="264.69" y="561.0" width="35.12" height="12.1" fill="#78e600"/>
<rect x="299.51" y="561.0" width="35.12" height="12.1" fill="#e6dc00"/>
<rect x="334.33" y="561.0" width="35.12" height="12.1" fill="#f8b014"/>
<rect x="369.15" y="561.0" width="35.12" height="12.1" fill="#ff8719"/>
<rect x="403.96" y="561.0" width="35.12" height="12.1" fill="#ff3c3c"/>
<rect x="438.78" y="561.0" width="34.82" height="12.1" fill="#ff0082"/>
<g class="cb"><text x="90.6" y="585.0" text-anchor="middle">290</text><text x="125.4" y="585.0" text-anchor="middle">292</text><text x="160.2" y="585.0" text-anchor="middle">294</text><text x="195.1" y="585.0" text-anchor="middle">296</text><text x="229.9" y="585.0" text-anchor="middle">298</text><text x="264.7" y="585.0" text-anchor="middle">300</text><text x="299.5" y="585.0" text-anchor="middle">302</text><text x="334.3" y="585.0" text-anchor="middle">304</text><text x="369.1" y="585.0" text-anchor="middle">306</text><text x="404.0" y="585.0" text-anchor="middle">308</text><text x="438.8" y="585.0" text-anchor="middle">310</text></g>
<rect x="630.90" y="560.0" width="33.00" height="12.3" fill="#0a32ff"/>
<rect x="663.60" y="560.0" width="33.00" height="12.3" fill="#00a0ff"/>
<rect x="696.30" y="560.0" width="33.00" height="12.3" fill="#00c8c8"/>
<rect x="729.00" y="560.0" width="33.00" height="12.3" fill="#00d28c"/>
<rect x="761.70" y="560.0" width="33.00" height="12.3" fill="#00dc00"/>
<rect x="794.40" y="560.0" width="33.00" height="12.3" fill="#78e600"/>
<rect x="827.10" y="560.0" width="33.00" height="12.3" fill="#e6dc00"/>
<rect x="859.80" y="560.0" width="33.00" height="12.3" fill="#f8b014"/>
<rect x="892.50" y="560.0" width="33.00" height="12.3" fill="#ff8719"/>
<rect x="925.20" y="560.0" width="33.00" height="12.3" fill="#ff3c3c"/>
<rect x="957.90" y="560.0" width="32.70" height="12.3" fill="#ff0082"/>
<g class="cb"><text x="630.9" y="584.0" text-anchor="middle">290</text><text x="663.6" y="584.0" text-anchor="middle">292</text><text x="696.3" y="584.0" text-anchor="middle">294</text><text x="729.0" y="584.0" text-anchor="middle">296</text><text x="761.7" y="584.0" text-anchor="middle">298</text><text x="794.4" y="584.0" text-anchor="middle">300</text><text x="827.1" y="584.0" text-anchor="middle">302</text><text x="859.8" y="584.0" text-anchor="middle">304</text><text x="892.5" y="584.0" text-anchor="middle">306</text><text x="925.2" y="584.0" text-anchor="middle">308</text><text x="957.9" y="584.0" text-anchor="middle">310</text></g>
<g class="title" font-size="22.8"><text x="46.2" y="23.8" textLength="68.8" lengthAdjust="spacingAndGlyphs">Monthly</text><text x="130.0" y="23.8" textLength="72.5" lengthAdjust="spacingAndGlyphs">Daytime</text><text x="216.2" y="23.8" textLength="44.8" lengthAdjust="spacingAndGlyphs">Tskin</text><text x="262.3" y="21.2" textLength="30.9" lengthAdjust="spacingAndGlyphs">--</text><text x="296.0" y="23.8" textLength="60.0" lengthAdjust="spacingAndGlyphs">Beijing</text><text x="371.0" y="23.8" textLength="102.5" lengthAdjust="spacingAndGlyphs">(2012/07)</text></g>
<g class="title" font-size="22.4"><text x="566.5" y="23.1" textLength="42.5" lengthAdjust="spacingAndGlyphs">Aqua</text><text x="621.5" y="23.1" textLength="65.0" lengthAdjust="spacingAndGlyphs">Monthly</text><text x="699.0" y="23.1" textLength="69.5" lengthAdjust="spacingAndGlyphs">Daytime</text><text x="781.0" y="23.1" textLength="42.5" lengthAdjust="spacingAndGlyphs">Tskin</text><text x="824.8" y="20.5" textLength="29.4" lengthAdjust="spacingAndGlyphs">--</text><text x="855.5" y="23.1" textLength="57.0" lengthAdjust="spacingAndGlyphs">Beijing</text><text x="926.0" y="23.1" textLength="94.5" lengthAdjust="spacingAndGlyphs">(2012/07)</text></g>
<text class="cap" x="251.3" y="629" text-anchor="middle">(<tspan font-weight="bold" font-size="27" dx="0.5">a</tspan><tspan dx="0.5">)</tspan></text>
<text class="cap" x="782" y="629" text-anchor="middle">(<tspan font-weight="bold" font-size="27" dx="0.8">b</tspan><tspan dx="0.8">)</tspan></text>
</svg>
</body></html>
